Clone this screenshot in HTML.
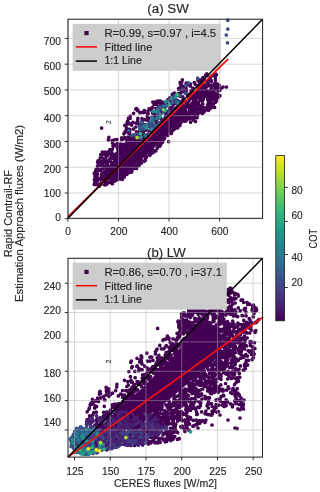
<!DOCTYPE html>
<html><head><meta charset="utf-8"><style>
html,body{margin:0;padding:0;background:#fff;width:320px;height:492px;overflow:hidden}
svg{display:block;will-change:transform}
text{font-family:"Liberation Sans", sans-serif;stroke:#262626;stroke-width:0.15px}
</style></head><body>
<svg width="320" height="492" viewBox="0 0 320 492">
<rect width="320" height="492" fill="#fff"/>
<defs><linearGradient id="tband" x1="69" y1="0" x2="150" y2="0" gradientUnits="userSpaceOnUse"><stop offset="0" stop-color="#325a8a"/><stop offset="0.45" stop-color="#3d4486"/><stop offset="1" stop-color="#462a78"/></linearGradient></defs>
<path d="M99.0,181.0 L104.0,182.0 L112.0,179.0 L120.0,176.0 L128.0,171.0 L136.0,164.0 L144.0,157.0 L152.0,150.0 L160.0,142.0 L168.0,134.0 L176.0,126.0 L184.0,119.0 L188.0,112.0 L184.0,102.6 L170.0,116.9 L156.0,131.2 L146.0,141.0 L130.0,142.0 L121.0,143.0 L119.0,150.0 L116.0,157.0 L108.0,167.0 L100.0,173.0Z" fill="#440154"/>
<path d="M190.7 98.2h0M157.6 128.0h0M118.9 146.5h0M166.5 120.3h0M191.1 104.8h0M180.8 122.7h0M188.9 107.8h0M97.5 174.0h0M176.2 108.7h0M97.3 181.0h0M118.6 147.6h0M126.9 141.4h0M145.2 157.4h0M187.3 117.7h0M101.3 184.1h0M186.6 103.7h0M133.5 140.3h0M141.5 140.0h0M191.5 107.6h0M99.3 170.4h0M115.6 180.5h0M188.4 106.1h0M183.4 120.5h0M185.8 105.6h0M189.8 105.5h0M146.2 156.4h0M117.8 178.2h0M113.2 179.6h0M188.6 105.3h0M189.5 112.9h0M185.2 117.5h0M137.1 139.1h0M192.1 103.3h0M187.7 103.6h0M153.4 150.7h0M95.6 176.5h0M131.3 140.1h0M175.8 108.6h0M172.0 114.3h0M188.2 106.4h0M110.8 179.7h0M156.7 130.0h0M119.4 176.7h0M100.7 165.3h0M187.2 107.0h0M174.7 109.9h0M167.7 135.4h0M189.6 113.8h0M118.4 177.0h0M130.6 168.8h0M137.8 164.7h0M175.3 109.5h0M163.5 139.6h0M102.9 166.1h0M105.0 182.1h0M134.1 166.4h0M163.0 139.8h0M115.6 156.6h0M107.0 184.1h0M107.7 165.0h0M176.7 126.4h0M159.6 127.1h0M100.6 169.7h0M96.1 181.1h0M114.3 157.4h0M143.2 139.6h0M189.1 100.8h0M128.2 172.8h0M159.3 127.7h0M106.9 182.4h0M100.9 183.1h0M99.1 170.2h0M186.3 115.4h0M103.6 167.8h0M170.7 115.3h0M112.7 158.1h0M134.4 141.3h0M98.3 184.6h0M106.8 181.8h0M120.2 145.6h0M98.5 178.9h0M116.6 179.5h0M106.2 183.5h0M138.7 141.2h0M143.4 139.8h0M137.4 140.2h0M150.9 153.5h0M165.9 120.8h0M189.0 112.6h0M161.3 142.0h0M145.1 140.2h0M135.3 166.1h0M125.3 174.1h0M160.1 125.2h0M180.5 105.2h0M130.4 139.8h0M160.0 126.1h0M178.0 126.2h0M105.9 166.4h0M115.6 177.7h0M137.0 140.8h0M186.0 105.6h0M120.6 144.0h0M124.3 174.9h0M114.3 158.2h0M131.2 170.1h0M150.6 151.5h0M143.4 139.7h0M111.5 162.2h0M105.8 167.3h0M121.8 139.7h0M161.5 124.9h0M149.4 154.1h0M167.6 117.5h0M105.9 183.2h0M95.9 177.4h0M109.8 161.3h0M97.0 184.7h0M126.0 174.4h0M112.5 156.7h0M109.5 161.5h0M129.7 139.4h0M163.0 123.6h0M158.3 144.2h0M118.0 151.6h0M161.4 123.4h0M121.0 177.1h0M141.4 160.0h0M164.8 121.0h0M146.5 139.4h0M138.1 138.9h0M102.6 168.8h0M164.7 138.1h0M127.8 141.4h0M173.5 112.3h0M177.2 107.3h0M120.2 176.9h0M99.1 170.5h0M177.4 107.8h0M186.1 102.5h0M121.6 175.7h0M111.6 180.1h0M181.1 104.7h0M96.5 180.3h0M119.1 148.8h0M142.0 139.5h0M152.9 133.8h0M187.7 104.5h0M129.7 171.3h0M99.1 169.3h0M133.6 139.7h0M176.4 108.8h0M112.2 180.5h0M156.9 128.4h0M146.2 155.9h0M100.6 170.4h0M138.9 162.7h0M149.8 155.3h0M98.9 169.7h0M114.4 158.4h0M96.3 173.0h0M97.1 177.2h0M118.6 179.2h0M116.5 155.5h0M185.1 118.0h0M105.4 166.0h0M112.6 180.3h0M189.6 108.7h0M123.2 176.9h0M96.5 172.0h0M107.7 182.1h0M108.6 166.1h0M169.9 114.4h0M115.1 154.6h0M183.4 101.4h0M96.2 180.8h0M106.8 181.9h0M189.3 111.6h0M146.3 156.0h0M188.9 112.9h0M99.4 186.1h0M118.3 179.5h0M122.5 179.3h0M124.3 177.0h0M129.1 172.2h0M131.1 172.2h0M133.6 168.6h0M137.3 166.0h0M145.3 159.7h0M150.3 154.6h0M153.0 152.7h0M153.6 151.3h0M157.3 147.6h0M159.6 146.2h0M160.4 144.7h0M170.8 133.3h0M171.6 131.7h0M173.6 129.8h0M175.5 128.3h0M177.3 127.1h0M180.0 125.4h0M184.2 121.2h0M187.0 118.9h0M189.2 116.7h0M191.2 111.0h0M191.9 108.7h0M193.5 104.9h0M191.7 98.2h0M191.0 96.2h0M188.1 96.3h0M183.0 100.7h0M179.2 104.6h0M177.9 106.8h0M176.6 107.6h0M172.9 111.7h0M171.2 112.8h0M168.9 114.5h0M165.2 118.0h0M164.7 120.3h0M162.6 121.3h0M161.8 123.5h0M158.1 126.3h0M156.2 128.6h0M152.6 132.0h0M151.5 133.1h0M149.2 134.3h0M145.6 138.8h0M144.1 139.0h0M141.7 138.4h0M134.5 139.0h0M132.4 139.3h0M123.6 138.6h0M117.6 143.5h0M118.2 146.9h0M116.7 153.4h0M114.6 154.5h0M112.5 157.2h0M109.5 159.6h0M107.8 161.9h0M105.2 162.5h0M102.3 164.1h0M100.6 164.5h0M95.6 171.2h0M95.4 175.4h0M94.4 179.7h0M216.1 94.5h0M218.2 87.9h0M213.7 97.1h0M206.3 90.1h0M194.2 96.9h0M203.0 99.0h0M196.6 109.5h0M211.7 89.2h0M193.5 101.0h0M217.5 87.7h0M205.7 109.7h0M210.3 90.7h0M209.1 85.1h0M201.0 106.2h0M212.4 89.5h0M199.2 105.3h0M191.1 92.5h0M202.7 86.9h0M201.7 97.8h0M197.1 97.1h0M197.0 108.4h0M198.5 85.6h0M211.0 94.1h0M198.9 97.5h0M195.0 102.6h0M208.5 110.3h0M219.1 85.3h0M197.5 115.2h0M213.3 104.1h0M209.1 93.5h0M198.9 86.9h0M188.3 117.2h0M196.0 99.4h0M202.3 94.5h0M217.1 93.9h0M207.6 99.3h0M196.3 95.5h0M193.6 94.8h0M198.3 94.5h0M194.2 93.2h0M214.4 85.9h0M209.5 80.0h0M213.8 85.3h0M193.8 110.2h0M218.2 97.5h0M215.8 95.5h0M211.9 104.4h0M207.3 83.9h0M206.5 107.6h0M198.5 89.9h0M189.6 94.0h0M211.3 81.6h0M203.6 108.0h0M213.3 103.5h0M206.2 93.4h0M204.8 85.2h0M190.5 95.4h0M213.5 96.7h0M208.8 103.3h0M211.0 96.4h0M195.7 95.1h0M194.0 117.4h0M209.5 92.6h0M212.0 90.2h0M206.6 85.8h0M215.7 99.8h0M194.2 118.2h0M187.1 118.5h0M212.0 85.4h0M212.2 103.4h0M200.3 109.9h0M193.5 110.1h0M208.0 83.3h0M202.3 109.7h0M194.3 94.8h0M212.1 98.5h0M216.0 96.1h0M186.0 121.0h0M204.0 110.5h0M197.9 89.7h0M201.7 82.8h0M201.4 109.6h0M211.0 93.7h0M218.5 87.0h0M202.5 93.4h0M190.1 118.5h0M201.5 112.4h0M193.3 117.8h0M192.2 117.5h0M212.5 105.9h0M200.4 83.3h0M192.6 98.8h0M218.2 85.9h0M209.3 102.6h0M199.0 86.2h0M202.2 90.5h0M197.6 102.6h0M212.2 104.1h0M190.0 116.7h0M198.2 102.3h0M194.5 105.8h0M209.4 94.5h0M208.8 94.4h0M206.4 91.8h0M219.9 89.5h0M208.8 108.1h0M209.1 109.3h0M195.6 103.2h0M214.8 83.4h0M218.5 90.5h0M216.6 101.0h0M199.0 108.7h0M211.6 90.6h0M207.1 106.8h0M204.4 94.3h0M217.3 89.9h0M213.6 85.9h0M202.6 103.5h0M204.7 96.6h0M204.1 79.8h0M192.8 111.2h0M193.0 114.0h0M201.7 95.5h0M196.4 111.5h0M214.9 98.3h0M206.3 86.8h0M208.0 97.1h0M195.4 100.8h0M218.7 89.5h0M196.0 117.7h0M210.1 97.3h0M208.0 85.8h0M207.1 81.6h0M202.8 93.3h0M210.5 100.8h0M200.0 107.1h0M198.7 87.5h0M193.8 107.5h0M192.2 96.1h0M209.5 97.4h0M202.6 99.8h0M202.3 113.4h0M214.1 99.2h0M209.8 103.6h0M210.8 93.9h0M209.7 94.7h0M210.4 90.9h0M207.6 85.7h0M188.3 95.3h0M195.8 117.6h0M204.9 87.5h0M203.2 99.6h0M196.5 95.0h0M202.9 104.0h0M202.6 100.5h0M199.5 107.3h0M194.2 111.8h0M203.1 89.7h0M197.9 91.4h0M198.9 109.2h0M214.3 99.6h0M211.1 88.1h0M200.7 94.3h0M195.3 94.4h0M209.0 106.0h0M209.7 90.7h0M203.4 107.5h0M192.5 93.4h0M211.3 99.8h0M197.7 90.6h0M202.0 109.3h0M216.1 97.7h0M199.6 92.4h0M196.3 115.2h0M217.0 97.2h0M191.1 111.9h0M217.4 97.7h0M198.7 104.3h0M198.4 95.2h0M212.2 93.2h0M209.1 105.6h0M209.0 105.0h0M192.6 104.0h0M205.3 92.8h0M207.8 104.6h0M202.9 84.3h0M191.9 92.3h0M199.4 94.5h0M217.4 84.0h0M220.5 89.3h0M215.7 89.4h0M205.7 95.1h0M214.0 90.5h0M212.7 99.4h0M198.1 88.8h0M215.2 102.4h0M198.3 113.0h0M211.8 97.8h0M201.1 88.1h0M200.0 100.6h0M194.7 108.9h0M202.3 94.9h0M215.9 88.0h0M216.5 94.3h0M196.4 105.2h0M204.8 91.2h0M187.1 119.6h0M208.3 101.7h0M196.1 93.0h0M215.3 93.5h0M197.4 96.2h0M208.6 98.0h0M199.0 89.0h0M213.2 98.5h0M214.8 95.0h0M211.1 80.3h0M209.2 107.8h0M202.4 99.1h0M207.9 108.5h0M193.6 106.4h0M195.6 102.5h0M206.8 84.8h0M195.4 107.9h0M112.1 153.0h0M131.8 171.7h0M98.1 160.8h0M123.3 138.4h0M190.4 84.2h0M107.4 152.7h0M193.5 119.9h0M151.6 109.9h0M110.0 149.6h0M214.6 107.4h0M129.9 129.7h0M187.8 83.6h0M180.7 84.6h0M156.1 108.5h0M128.5 118.0h0M159.9 100.9h0M205.6 75.0h0M133.5 129.1h0M100.9 163.4h0M125.8 131.9h0M144.2 112.4h0M129.0 129.3h0M106.0 160.7h0M136.5 168.4h0M182.4 86.6h0M181.7 82.2h0M185.9 87.2h0M130.5 171.9h0M177.8 127.8h0M131.2 123.8h0M96.3 170.0h0M104.8 185.0h0M147.9 112.9h0M130.1 123.8h0M139.2 165.3h0M94.3 173.4h0M144.6 161.1h0M97.9 161.2h0M190.2 86.0h0M192.8 89.6h0M161.4 103.6h0M136.8 109.5h0M212.3 75.3h0M94.8 176.0h0M126.2 139.1h0M152.3 107.6h0M210.8 76.5h0M137.9 118.3h0M103.9 153.5h0M95.1 178.8h0M124.8 125.4h0M136.6 108.6h0M107.2 155.8h0M95.0 173.0h0M136.1 123.1h0M161.4 101.9h0M127.8 123.0h0M145.5 159.9h0M114.9 144.9h0M125.1 131.6h0M113.6 148.3h0M106.4 153.7h0M98.2 165.7h0M164.6 119.7h0M111.4 149.9h0M156.6 104.5h0M127.7 124.0h0M152.0 108.0h0M139.9 112.7h0M202.6 79.8h0M128.0 137.0h0M102.5 152.6h0M129.5 132.2h0M207.1 75.4h0M105.3 154.5h0M103.0 152.4h0M136.1 108.9h0M186.0 88.9h0M103.9 158.8h0M137.7 120.1h0M210.9 108.1h0M128.1 131.1h0M180.4 87.7h0M148.0 113.9h0M180.1 82.7h0M171.3 133.5h0M121.7 137.9h0M142.0 118.5h0M198.7 81.2h0M156.5 102.2h0M111.7 155.1h0M152.8 102.1h0M105.6 158.8h0M136.5 168.0h0M184.8 86.4h0M206.9 73.8h0M94.3 184.4h0M124.7 137.6h0M117.1 139.5h0M135.7 127.0h0M137.7 123.3h0M141.5 163.0h0M194.3 82.6h0M200.2 82.7h0M103.8 153.5h0M154.1 104.3h0M157.3 148.2h0M147.5 114.1h0M159.0 102.3h0M129.7 131.7h0M191.1 90.7h0M137.9 110.0h0M210.4 77.8h0M179.3 89.4h0M127.6 121.0h0M132.9 122.3h0M131.7 125.1h0M117.4 148.7h0M104.7 161.5h0M110.1 151.5h0M103.9 154.0h0M114.8 147.7h0M94.7 182.7h0M107.8 152.1h0M152.6 107.3h0M173.6 93.6h0M200.6 79.8h0M219.9 95.7h0M160.4 145.2h0M110.1 158.7h0M149.0 108.9h0M182.4 79.8h0M156.5 103.5h0M126.2 130.3h0M155.8 150.9h0M98.7 165.0h0M178.8 89.4h0M183.3 86.3h0M114.2 144.9h0M112.4 183.7h0M112.2 140.6h0M106.1 155.7h0M186.4 90.4h0M154.9 102.1h0M148.0 111.1h0M193.0 88.0h0M172.3 94.4h0M105.1 153.6h0M126.8 128.5h0M127.1 122.8h0M187.5 95.5h0M95.8 173.3h0M97.6 162.3h0M162.5 142.3h0M203.0 77.5h0M215.9 74.2h0M216.4 74.8h0M215.4 79.9h0M95.4 180.0h0M95.1 176.7h0M95.5 174.9h0M95.5 171.7h0M96.2 169.4h0M97.5 166.1h0M100.8 161.1h0M101.4 157.0h0M101.2 155.2h0M104.0 154.4h0M109.0 153.7h0M111.8 150.3h0M112.9 141.1h0M108.9 137.4h0M123.9 133.8h0M126.5 128.0h0M126.2 125.0h0M127.9 121.5h0M130.1 118.3h0M130.3 116.2h0M133.6 113.3h0M136.3 109.0h0M135.7 109.0h0M137.4 110.6h0M142.4 112.4h0M144.4 110.6h0M154.8 102.4h0M157.6 101.0h0M163.9 102.3h0M168.1 100.0h0M173.5 95.3h0M174.3 93.0h0M178.6 88.6h0M186.2 83.2h0M188.9 84.8h0M195.3 84.3h0M198.0 80.3h0M206.6 75.8h0M214.3 74.5h0M215.2 77.3h0M215.9 83.0h0M222.9 87.1h0M226.5 87.0h0M220.9 88.8h0M219.6 90.4h0M217.7 94.4h0M213.0 106.3h0M206.2 108.2h0M204.6 111.1h0M203.8 112.2h0M197.0 117.7h0M186.3 120.1h0M179.8 123.6h0M176.7 126.0h0M172.6 129.8h0M170.7 132.2h0M164.5 138.1h0M161.3 143.3h0M157.8 146.9h0M153.2 150.0h0M151.1 152.5h0M146.5 157.0h0M134.7 166.3h0M128.0 172.5h0M126.8 174.4h0M122.3 178.4h0M121.4 178.9h0M116.3 179.7h0M114.2 181.2h0M110.5 182.6h0M98.8 185.3h0M95.5 183.3h0M101.6 128.1h0M190.6 122.2h0M195.5 121.5h0M108.4 139.9h0M114.4 139.9h0M102.4 152.0h0M105.1 152.0h0M107.9 152.0h0M100.8 154.7h0M100.2 158.0h0M101.8 161.3h0M102.4 164.0h0M112.5 143.0h0M113.0 146.0h0M112.0 150.0h0M117.0 144.0h0M116.0 155.0h0M111.0 157.0h0" stroke="#440154" stroke-width="3.7" stroke-linecap="round" fill="none"/>
<path d="M227.8 20.3h0M227.8 29.1h0M226.3 35.0h0M227.5 42.8h0" stroke="#3e4a89" stroke-width="3.7" stroke-linecap="round" fill="none"/>
<path d="M148.7 136.6h0M151.5 128.6h0M156.3 123.6h0M168.1 99.7h0M182.8 96.9h0M180.5 102.1h0M182.0 91.3h0M155.8 119.2h0M132.8 139.1h0M150.7 124.5h0M144.0 135.5h0M169.8 108.8h0M160.6 110.0h0M151.7 130.0h0M137.5 133.0h0M182.9 100.5h0M177.8 95.4h0M144.9 119.5h0M146.5 138.2h0M149.6 124.4h0M155.3 112.7h0M175.3 94.2h0M162.2 120.7h0M170.2 107.5h0M170.6 98.7h0M137.9 135.7h0M171.6 107.6h0M176.4 100.4h0M155.7 116.0h0M163.8 108.1h0M139.6 130.8h0M177.8 100.7h0M131.3 140.3h0M166.5 111.8h0M156.9 114.1h0M163.7 103.3h0M152.5 112.9h0M175.8 103.3h0M141.3 122.1h0M154.5 115.6h0M182.8 91.4h0M133.5 135.6h0M141.7 130.7h0M157.3 111.6h0M163.8 109.0h0M143.0 132.8h0M162.2 103.9h0M168.7 100.0h0M161.9 106.1h0M144.2 136.0h0M161.8 107.6h0M173.0 108.0h0M155.7 125.9h0M165.6 117.1h0M150.6 124.5h0M169.8 108.5h0M131.0 137.2h0M142.8 131.3h0M148.0 134.2h0M142.2 130.2h0M152.3 123.8h0M162.9 110.1h0M140.0 134.2h0M162.2 104.2h0M168.3 111.1h0M170.6 102.0h0M147.3 116.4h0M149.2 123.3h0M139.3 134.5h0M161.1 118.7h0M165.6 112.4h0M183.1 99.6h0M154.0 128.5h0M151.7 125.2h0M166.5 104.4h0M140.3 134.8h0M180.6 93.0h0M162.0 120.7h0M161.6 107.4h0M185.9 92.9h0M164.7 109.7h0M166.4 104.0h0M146.3 120.0h0M148.9 118.2h0M178.7 104.7h0M152.2 128.2h0M178.2 104.2h0M147.6 120.1h0M165.9 115.1h0M165.5 106.3h0M165.4 110.9h0M143.7 133.8h0M160.5 105.4h0M154.8 118.2h0M160.0 106.8h0M143.0 139.0h0M154.4 127.0h0M158.7 106.8h0M136.3 139.0h0M160.7 109.8h0M144.4 130.6h0M142.3 134.0h0M158.3 116.8h0M159.6 117.1h0M142.2 123.2h0M183.9 91.1h0M146.4 130.0h0M154.2 112.1h0M174.7 98.6h0M154.0 111.8h0M143.9 127.3h0M143.3 125.6h0M156.9 119.1h0M161.0 111.1h0M150.0 123.9h0M134.7 139.1h0M128.9 133.4h0M130.8 135.3h0M149.5 131.0h0M169.7 97.9h0M147.7 134.9h0M136.4 131.8h0M180.3 96.3h0M172.9 108.5h0M169.8 107.8h0M173.1 104.9h0M141.9 121.5h0M132.7 135.4h0M163.2 111.9h0M159.7 106.5h0M147.9 134.6h0M153.6 120.1h0M183.4 99.0h0M163.9 105.0h0M178.4 93.5h0M137.1 135.1h0M156.2 120.7h0M160.1 105.7h0M174.3 94.5h0M150.2 125.5h0M140.6 124.4h0M164.5 106.9h0M169.9 109.8h0" stroke="#440154" stroke-width="3.7" stroke-linecap="round" fill="none"/>
<path d="M158.3 124.0h0M141.1 138.7h0M180.3 96.0h0M172.5 98.1h0M169.1 112.9h0M149.3 135.6h0M145.1 124.5h0M149.6 127.1h0M178.0 104.7h0M182.4 89.0h0M153.0 125.3h0M166.4 105.6h0M136.4 136.8h0M174.0 95.3h0M156.8 118.3h0M174.5 98.1h0M162.0 106.2h0M152.4 125.7h0M155.9 118.7h0M167.0 116.9h0M173.7 98.6h0M173.9 108.9h0M157.6 118.7h0M156.8 125.1h0M157.2 114.7h0M143.8 127.0h0M174.3 100.1h0M156.4 118.3h0M137.2 133.9h0M150.7 124.9h0M152.8 120.2h0M179.4 102.1h0M161.0 122.6h0" stroke="#46337e" stroke-width="3.7" stroke-linecap="round" fill="none"/>
<path d="M139.1 126.0h0M185.1 93.2h0M172.7 102.2h0M176.4 102.8h0M131.9 135.6h0M139.0 134.0h0M159.8 106.5h0M152.7 118.3h0M175.4 98.3h0M148.6 124.4h0M142.8 126.1h0M177.3 95.0h0M146.8 138.2h0M161.2 108.8h0M153.8 127.4h0M149.1 134.1h0M150.4 121.8h0M158.7 122.6h0M151.1 125.7h0M152.0 117.0h0M171.5 102.7h0M142.5 128.8h0M157.8 113.0h0M154.6 125.6h0M157.6 114.0h0M163.7 112.7h0M133.9 134.8h0" stroke="#3b528b" stroke-width="3.7" stroke-linecap="round" fill="none"/>
<path d="M152.4 117.4h0M156.0 125.7h0M141.2 122.3h0M167.6 101.1h0M158.8 110.9h0M143.4 125.8h0M179.0 95.5h0M149.9 133.6h0M177.1 101.7h0" stroke="#31688e" stroke-width="3.7" stroke-linecap="round" fill="none"/>
<path d="M152.7 119.1h0M163.7 106.0h0M157.8 109.2h0M144.5 128.6h0M166.9 105.9h0M145.1 135.3h0M146.2 128.2h0" stroke="#2a788e" stroke-width="3.7" stroke-linecap="round" fill="none"/>
<path d="M165.7 110.4h0M175.2 97.2h0M169.6 104.0h0M140.8 137.2h0M178.7 104.2h0M171.4 98.4h0M144.6 127.2h0M151.2 129.4h0M153.1 111.6h0M160.0 117.1h0M165.5 101.9h0M156.1 111.5h0" stroke="#21918c" stroke-width="3.7" stroke-linecap="round" fill="none"/>
<path d="" stroke="#35b779" stroke-width="3.7" stroke-linecap="round" fill="none"/>
<path d="M140.0 129.5h0M146.7 124.8h0M153.3 122.0h0M157.0 118.3h0M160.8 114.5h0M151.2 121.0h0M146.9 125.0h0" stroke="#2a788e" stroke-width="3.7" stroke-linecap="round" fill="none"/>
<path d="M139.8 128.1h0M143.0 128.9h0M128.9 130.5h0M185.5 85.7h0M188.3 82.9h0M197.7 78.2h0" stroke="#3b528b" stroke-width="3.7" stroke-linecap="round" fill="none"/>
<path d="M140.6 133.6h0M177.0 94.4h0" stroke="#35b779" stroke-width="3.7" stroke-linecap="round" fill="none"/>
<path d="M163.6 109.8h0" stroke="#6ece58" stroke-width="3.7" stroke-linecap="round" fill="none"/>
<path d="M137.1 137.6h0" stroke="#b5de2b" stroke-width="3.7" stroke-linecap="round" fill="none"/>
<path d="M95.0,432.0 L110.0,418.0 L125.0,403.0 L140.0,390.0 L155.0,375.0 L170.0,360.0 L180.0,348.0 L186.0,336.0 L190.0,325.0 L205.0,322.0 L216.0,326.0 L222.0,336.0 L222.0,348.0 L214.0,361.0 L200.0,373.0 L185.0,386.0 L170.0,399.0 L155.0,411.0 L140.0,421.0 L120.0,429.0 L100.0,437.0Z" fill="#440154"/>
<path d="M152.3 418.3h0M102.9 422.0h0M184.3 332.3h0M158.1 422.0h0M186.0 321.3h0M122.2 404.8h0M181.3 394.6h0M149.0 422.0h0M216.9 365.3h0M212.4 366.5h0M149.2 423.0h0M127.5 398.6h0M109.6 412.1h0M196.7 319.9h0M227.3 354.4h0M183.6 314.8h0M229.5 352.9h0M202.2 312.8h0M229.5 336.3h0M133.0 393.7h0M120.9 406.4h0M114.2 412.3h0M135.4 390.3h0M213.1 320.7h0M219.4 316.1h0M163.6 418.0h0M168.6 356.8h0M155.4 370.4h0M217.2 357.6h0M203.1 371.0h0M217.2 366.5h0M155.0 367.0h0M207.4 367.1h0M176.9 351.0h0M158.1 421.0h0M223.1 346.8h0M168.7 405.4h0M160.2 363.8h0M186.4 395.3h0M211.8 368.6h0M121.0 429.1h0M127.2 427.6h0M225.8 337.7h0M197.2 382.2h0M223.1 343.8h0M153.6 422.8h0M224.6 357.5h0M155.1 419.7h0M160.9 417.9h0M189.8 311.8h0M190.3 383.5h0M221.2 331.3h0M123.9 429.3h0M197.6 313.0h0M180.9 400.1h0M125.7 401.1h0M227.2 344.0h0M184.1 338.6h0M225.5 349.9h0M149.8 423.4h0M202.0 320.1h0M210.5 311.5h0M180.6 399.2h0M228.7 355.0h0M147.3 429.6h0M151.9 371.7h0M189.7 312.9h0M219.8 358.2h0M164.3 416.2h0M227.1 340.0h0M171.5 404.3h0M185.8 331.8h0M220.8 352.7h0M142.6 421.9h0M224.1 335.3h0M183.4 333.8h0M151.3 423.6h0M142.2 380.8h0M122.3 403.9h0M177.7 345.5h0M167.3 412.1h0M173.5 402.0h0M229.1 340.2h0M217.9 355.0h0M149.5 419.2h0M207.9 314.9h0M183.5 331.0h0M228.4 348.3h0M185.4 320.2h0M161.0 410.0h0M138.6 384.3h0M96.4 425.7h0M169.3 358.6h0M196.3 320.8h0M95.3 425.8h0M175.3 397.1h0M159.9 409.9h0M163.7 413.2h0M142.6 378.9h0M186.9 324.7h0M188.4 313.0h0M214.1 319.6h0M221.4 330.5h0M224.4 331.0h0M117.5 409.9h0M190.2 389.3h0M182.9 397.5h0M180.0 394.4h0M163.5 419.1h0M160.7 367.9h0M195.9 377.4h0M190.6 316.5h0M225.0 349.6h0M206.4 319.3h0M220.2 329.5h0M125.2 399.9h0M208.8 370.4h0M203.0 318.6h0M169.3 356.0h0M155.7 372.4h0M162.0 407.3h0M187.1 328.5h0M227.3 344.5h0M159.5 418.8h0M211.0 371.1h0M229.3 337.1h0M157.0 422.9h0M189.3 388.3h0M231.5 341.7h0M178.8 346.1h0M211.1 313.1h0M192.3 382.7h0M191.3 386.0h0M147.2 378.5h0M213.9 321.7h0M145.5 383.3h0M172.4 347.7h0M98.3 426.1h0M139.6 429.9h0M223.2 342.7h0M226.3 353.1h0M177.5 401.4h0M227.9 353.8h0M130.3 397.1h0M140.5 426.4h0M105.7 416.0h0M226.0 329.4h0M138.6 423.6h0M187.1 320.9h0M180.2 392.3h0M224.9 334.5h0M227.4 350.2h0M233.2 340.4h0M166.6 362.9h0M182.9 325.9h0M157.1 364.4h0M213.3 318.5h0M92.9 427.9h0M117.4 404.2h0M176.8 348.8h0M143.9 378.1h0M153.6 417.6h0M111.0 410.7h0M227.8 332.5h0M188.4 327.4h0M198.0 312.2h0M227.8 353.1h0M219.2 312.1h0M190.4 322.3h0M214.0 316.4h0M169.2 401.6h0M100.9 422.2h0M225.2 341.1h0M156.0 419.2h0M110.2 413.9h0M161.1 362.4h0M145.7 429.1h0M227.8 340.4h0M175.1 351.0h0M199.5 313.2h0M95.3 427.9h0M219.8 364.0h0M225.0 353.3h0M181.3 390.5h0M202.4 314.8h0M221.5 321.0h0M225.1 351.1h0M157.5 423.0h0M230.6 351.2h0M205.4 374.1h0M185.5 392.0h0M153.4 423.8h0M215.5 364.8h0M194.8 318.4h0M180.4 402.1h0M130.0 390.0h0M190.5 386.6h0M198.1 314.2h0M222.2 356.3h0M162.1 405.7h0M157.1 412.3h0M203.9 315.0h0M162.0 364.4h0M202.9 377.9h0M172.9 410.5h0M159.0 364.3h0M158.6 421.5h0M184.3 328.1h0M206.0 319.2h0M145.7 381.3h0M170.4 408.5h0M153.7 416.0h0M214.8 311.1h0M102.7 422.3h0M119.6 429.9h0M140.3 384.7h0M124.2 402.0h0M134.2 389.0h0M167.4 407.2h0M168.8 352.3h0M190.8 316.8h0M223.5 343.4h0M221.3 353.5h0M222.5 322.4h0M97.8 424.7h0M212.9 315.6h0M229.4 349.9h0M137.7 389.8h0M153.5 420.6h0M224.4 354.6h0M183.8 396.5h0M164.9 410.6h0M138.4 427.7h0M167.1 358.2h0M206.8 319.3h0M167.4 354.6h0M168.3 353.3h0M200.0 376.8h0M216.5 365.0h0M145.5 379.5h0M137.5 429.3h0M174.8 348.0h0M160.0 361.2h0M149.5 419.2h0M110.9 413.0h0M183.9 328.9h0M225.6 358.7h0M186.0 391.3h0M219.7 360.0h0M226.8 354.7h0M155.8 374.1h0M110.0 416.0h0M159.2 369.7h0M150.4 371.6h0M132.9 387.3h0M132.3 396.2h0M135.8 391.0h0M225.7 359.5h0M122.7 397.4h0M187.0 332.8h0M223.4 329.6h0M186.7 327.6h0M207.1 313.5h0M137.2 424.6h0M187.5 322.7h0M220.8 318.2h0M145.1 424.5h0M142.6 423.6h0M95.0 427.3h0M191.5 311.2h0M220.5 313.0h0M179.1 400.1h0M181.2 397.0h0M196.5 382.7h0M176.5 351.3h0M151.8 416.0h0M221.2 354.3h0M215.6 317.2h0M167.0 353.1h0M185.0 395.4h0M226.3 355.3h0M161.9 362.7h0M139.3 432.9h0M126.0 401.6h0M104.2 417.9h0M156.9 372.8h0M167.7 414.8h0M144.8 376.7h0M155.7 422.3h0M184.8 314.4h0M158.3 422.5h0M133.5 425.2h0M108.5 417.4h0M218.5 311.9h0M185.9 393.6h0M222.8 363.3h0M204.5 371.1h0M210.3 370.0h0M152.4 367.7h0M166.5 362.5h0M165.8 404.8h0M224.6 331.0h0M190.3 324.9h0M223.7 351.4h0M180.3 393.9h0M146.1 376.8h0M172.1 410.4h0M189.1 324.6h0M155.7 373.5h0M221.8 362.0h0M170.6 409.6h0M207.5 317.8h0M228.6 351.2h0M183.4 390.2h0M123.7 396.3h0M130.8 396.7h0M117.8 408.0h0M189.1 315.1h0M179.9 394.4h0M149.8 419.6h0M131.4 430.3h0M140.2 423.5h0M135.8 389.2h0M164.9 412.2h0M227.3 332.7h0M176.2 402.8h0M151.8 415.0h0M153.7 414.8h0M153.6 373.1h0M223.6 339.0h0M131.7 428.8h0M174.1 349.0h0M181.7 327.6h0M232.7 341.4h0M127.1 427.3h0M224.9 358.0h0M171.2 358.3h0M207.3 368.3h0M223.1 336.5h0M148.3 415.7h0M104.9 417.5h0M206.9 319.7h0M218.0 362.5h0M133.4 424.7h0M135.6 388.7h0M129.8 392.9h0M135.6 389.0h0M203.7 376.1h0M226.5 331.4h0M156.3 415.5h0M229.7 355.3h0M231.2 342.1h0M220.5 319.6h0M219.4 324.5h0M159.1 362.3h0M193.4 380.4h0M122.2 430.8h0M230.1 341.2h0M182.5 342.9h0M169.1 402.8h0M216.3 325.0h0M147.8 376.0h0M170.8 406.6h0M218.6 324.2h0M141.6 420.6h0M171.9 406.2h0M161.8 409.4h0M146.0 430.0h0M145.5 428.2h0M219.5 352.5h0M124.4 399.0h0M124.6 429.0h0M126.9 397.3h0M191.6 313.2h0M147.3 425.3h0M150.4 428.1h0M137.9 427.4h0M192.5 315.0h0M177.6 396.2h0M204.2 312.7h0M202.3 376.2h0M122.8 401.6h0M182.7 394.6h0M203.4 321.0h0M220.8 323.5h0M219.8 331.0h0M164.2 358.5h0M160.4 413.5h0M115.5 405.2h0M195.4 318.6h0M141.7 386.7h0M182.5 333.0h0M228.4 344.1h0M218.8 357.0h0M194.0 312.4h0M230.0 336.3h0M173.9 404.6h0M150.6 376.6h0M228.9 349.1h0M214.0 363.7h0M168.8 400.8h0M148.3 422.0h0M190.4 389.8h0M165.2 361.7h0M135.0 431.7h0M198.2 375.9h0M122.1 403.7h0M221.0 351.2h0M128.8 429.7h0M221.3 355.2h0M175.0 404.3h0M131.2 396.0h0M218.9 321.1h0M190.1 317.6h0M186.5 320.2h0M227.9 356.0h0M204.6 374.7h0M216.8 316.2h0M156.8 424.2h0M168.2 353.8h0M143.8 383.5h0M164.2 413.0h0M200.4 320.7h0M171.9 405.0h0M164.0 363.9h0M141.1 425.3h0M104.1 419.3h0M136.5 423.1h0M231.9 342.8h0M229.6 337.1h0M156.9 423.7h0M111.2 415.6h0M149.5 379.4h0M185.1 324.2h0M104.5 417.5h0M189.3 386.3h0M162.4 358.0h0M198.4 323.1h0M119.8 406.7h0M207.4 311.6h0M218.3 358.5h0M180.6 344.1h0M167.5 358.3h0M134.5 386.6h0M174.7 346.5h0M169.2 359.3h0M186.7 389.6h0M207.4 314.9h0M135.5 427.7h0M167.7 413.3h0M229.3 338.1h0M128.7 431.0h0M167.0 362.9h0M175.8 400.7h0M224.3 345.3h0M107.7 415.9h0M173.9 405.4h0M228.9 335.2h0M184.3 321.1h0M207.5 322.6h0M146.5 426.3h0M142.6 422.7h0M150.1 427.7h0M218.2 360.5h0M224.0 330.1h0M225.4 334.4h0M143.2 423.4h0M198.9 322.3h0M158.0 418.5h0M222.2 354.4h0M208.8 311.8h0M188.6 390.6h0M224.0 331.2h0M200.3 319.7h0M142.8 422.6h0M199.2 317.7h0M159.7 363.2h0M170.2 405.1h0M222.8 329.0h0M151.9 426.2h0M155.2 411.8h0M183.8 323.6h0M229.5 345.2h0M224.9 327.7h0M103.2 420.7h0M202.6 371.7h0M195.2 320.6h0M163.2 418.9h0M179.2 400.0h0M214.8 362.0h0M122.0 404.2h0M124.4 428.9h0M192.5 323.2h0M225.1 346.0h0M134.8 426.0h0M173.9 398.6h0M174.7 396.0h0M201.9 374.2h0M150.2 416.7h0M182.1 340.7h0M148.9 417.5h0M230.9 346.2h0M200.8 321.7h0M144.0 420.1h0M164.2 361.9h0M214.3 369.0h0M216.8 317.7h0M191.4 384.2h0M187.9 316.3h0M185.3 316.0h0M129.7 395.8h0M211.0 364.7h0M177.5 344.3h0M142.8 423.6h0M183.3 392.8h0M119.2 403.6h0M225.5 348.3h0M154.8 413.0h0M218.9 366.3h0M222.4 321.3h0M184.5 326.5h0M210.1 365.1h0M127.1 401.1h0M187.9 322.2h0M174.4 353.5h0M131.9 430.0h0M225.6 347.1h0M226.9 349.9h0M230.0 341.6h0M164.7 415.4h0M159.7 408.3h0M158.1 418.4h0M178.8 401.2h0M190.2 388.6h0M219.4 318.5h0M128.7 394.1h0M163.4 416.7h0M106.8 419.4h0M197.9 381.4h0M195.8 311.8h0M184.4 327.4h0M138.7 426.6h0M231.0 343.9h0M185.7 327.1h0M216.0 363.9h0M192.9 384.2h0M190.4 323.8h0M195.7 321.3h0M160.7 366.6h0M143.9 424.6h0M219.3 366.1h0M214.4 314.3h0M146.0 425.0h0M129.9 429.9h0M222.2 343.5h0M171.1 355.2h0M119.3 407.1h0M202.4 320.3h0M218.1 363.4h0M159.0 415.1h0M216.9 359.2h0M200.8 313.1h0M187.0 332.0h0M201.5 378.3h0M171.2 406.2h0M134.3 386.2h0M226.4 333.3h0M196.4 381.1h0M159.0 419.4h0M154.2 414.3h0M194.0 322.2h0M222.9 334.9h0M156.9 369.5h0M192.5 384.9h0M145.9 426.8h0M188.5 321.8h0M175.1 346.2h0M117.7 407.5h0M228.5 348.4h0M152.6 371.3h0M146.0 427.6h0M221.4 312.3h0M157.8 423.3h0M168.8 409.1h0M150.1 379.4h0M225.5 361.1h0M158.1 416.6h0M124.5 397.8h0M229.3 338.0h0M161.7 367.2h0M168.3 354.5h0M154.3 426.0h0M131.8 391.2h0M220.6 311.3h0M162.3 361.9h0M187.5 315.8h0M180.8 390.5h0M189.8 316.4h0M221.9 357.4h0M210.8 323.0h0M133.7 392.4h0M194.0 378.8h0M219.3 329.6h0M209.5 322.6h0M161.6 417.5h0M123.5 396.8h0M221.4 315.7h0M115.1 409.9h0M188.6 384.0h0M163.0 414.0h0M161.7 405.9h0M166.9 415.8h0M157.3 409.4h0M220.8 317.4h0M156.5 364.9h0M230.5 353.0h0M198.7 375.9h0M175.2 347.7h0M172.3 350.3h0M115.9 406.9h0M217.8 327.8h0M184.9 389.0h0M125.9 397.2h0M218.2 323.7h0M154.8 369.7h0M132.7 393.4h0M172.4 350.0h0M199.7 374.0h0M206.4 321.8h0M91.9 427.6h0M93.9 427.0h0M95.0 425.2h0M96.8 423.5h0M101.7 418.3h0M103.5 415.9h0M105.5 415.3h0M106.6 413.8h0M110.5 410.1h0M113.9 406.4h0M114.6 404.1h0M123.6 396.9h0M128.1 390.8h0M129.4 390.1h0M131.8 387.6h0M133.4 385.8h0M134.3 384.6h0M137.0 383.5h0M138.7 382.0h0M142.2 378.1h0M144.9 374.7h0M146.5 373.4h0M147.7 371.0h0M149.6 369.3h0M151.8 368.2h0M152.9 366.7h0M155.6 365.1h0M156.3 363.0h0M157.6 361.1h0M161.0 358.0h0M165.2 355.1h0M166.1 352.7h0M168.4 351.8h0M170.2 349.8h0M171.2 347.8h0M176.3 341.6h0M177.8 338.9h0M179.4 337.0h0M180.0 335.1h0M181.3 330.9h0M181.7 329.0h0M181.7 327.0h0M182.1 324.6h0M181.6 322.0h0M182.4 319.2h0M181.7 316.5h0M184.1 312.8h0M188.6 310.1h0M191.2 310.5h0M193.7 310.8h0M195.5 310.5h0M199.6 310.3h0M205.0 311.3h0M209.4 310.6h0M216.1 310.7h0M218.6 310.4h0M220.3 310.6h0M222.0 311.6h0M222.7 314.1h0M224.3 324.8h0M225.6 327.3h0M229.8 334.1h0M234.3 341.1h0M231.5 353.3h0M228.2 357.0h0M227.8 359.6h0M225.8 360.4h0M224.8 363.0h0M221.0 364.8h0M219.2 367.5h0M216.1 369.4h0M213.0 371.7h0M207.0 376.0h0M204.7 377.0h0M200.3 379.4h0M196.6 382.8h0M195.2 384.9h0M182.8 399.9h0M181.8 401.9h0M177.7 405.3h0M177.6 407.1h0M173.5 410.9h0M172.0 411.5h0M166.4 417.6h0M164.4 418.1h0M161.1 421.7h0M156.6 426.3h0M154.6 426.4h0M152.2 428.8h0M142.1 432.5h0M139.6 432.9h0M258.8 319.6h0M207.1 376.7h0M192.1 393.6h0M187.0 400.7h0M167.1 433.6h0M154.8 427.9h0M140.0 359.9h0M235.9 331.9h0M112.2 404.8h0M215.3 407.7h0M208.7 389.1h0M234.1 297.9h0M186.1 408.7h0M206.4 397.5h0M181.3 324.3h0M208.4 408.0h0M240.4 334.7h0M161.8 427.6h0M240.2 310.9h0M245.5 345.3h0M180.0 324.4h0M249.4 328.1h0M232.1 314.3h0M243.1 408.7h0M165.1 439.0h0M163.6 433.4h0M183.5 399.7h0M189.5 424.1h0M246.9 333.0h0M251.5 351.3h0M131.7 367.8h0M120.6 394.1h0M158.9 355.4h0M241.3 330.1h0M212.7 372.8h0M203.9 385.5h0M250.5 345.5h0M155.4 437.6h0M239.8 377.3h0M180.2 329.1h0M100.5 397.9h0M230.3 355.8h0M186.3 422.6h0M216.9 370.7h0M216.9 405.1h0M228.2 386.9h0M99.6 392.4h0M229.0 376.3h0M227.5 401.9h0M218.2 392.3h0M172.9 414.5h0M191.9 408.4h0M237.8 370.8h0M158.8 429.0h0M228.1 289.7h0M150.0 357.1h0M237.2 326.3h0M189.6 399.9h0M104.9 400.0h0M186.4 397.3h0M184.7 420.2h0M233.3 349.9h0M186.9 400.4h0M168.4 417.6h0M240.8 404.6h0M225.8 315.0h0M228.3 326.9h0M205.5 398.7h0M175.8 417.3h0M173.0 338.8h0M248.7 325.6h0M220.8 384.9h0M209.9 377.0h0M96.5 419.9h0M205.9 420.0h0M208.5 400.8h0M219.0 386.5h0M250.0 351.1h0M161.1 427.9h0M236.8 327.0h0M175.8 424.1h0M230.2 331.9h0M215.8 385.4h0M237.9 323.1h0M232.9 351.2h0M202.4 384.0h0M180.0 325.4h0M190.7 390.5h0M198.2 391.1h0M235.1 293.3h0M150.4 435.3h0M182.5 412.7h0M227.0 322.7h0M231.1 366.4h0M103.7 396.6h0M210.8 388.6h0M181.2 418.1h0M200.7 394.3h0M178.0 336.9h0M226.6 390.1h0M186.8 406.8h0M231.3 288.6h0M185.8 425.3h0M235.2 363.9h0M134.8 371.4h0M170.8 429.9h0M191.9 404.3h0M232.2 350.3h0M159.0 440.5h0M242.1 404.5h0M236.9 359.2h0M183.2 401.0h0M241.1 300.2h0M190.2 391.5h0M197.4 414.1h0M197.6 394.7h0M237.3 348.8h0M124.7 395.2h0M136.8 366.5h0M154.9 435.1h0M183.1 399.4h0M233.5 355.8h0M90.4 416.5h0M116.7 387.0h0M200.5 385.4h0M183.6 403.6h0M187.0 419.7h0M232.6 366.1h0M182.3 426.2h0M143.7 433.4h0M170.6 429.3h0M209.0 379.7h0M149.9 361.1h0M237.8 294.4h0M185.3 403.3h0M179.4 407.5h0M239.1 342.8h0M187.1 396.3h0M201.6 411.8h0M227.3 324.6h0M238.9 377.7h0M167.5 437.8h0M232.1 393.5h0M240.9 338.4h0M228.7 372.8h0M232.7 374.9h0M160.1 423.6h0M221.1 376.3h0M164.1 428.4h0M163.0 435.0h0M137.2 365.8h0M172.7 343.6h0M166.0 430.2h0M137.0 358.3h0M239.1 352.1h0M93.7 412.6h0M168.5 419.6h0M108.4 391.5h0M171.7 345.8h0M216.4 370.2h0M97.3 419.3h0M166.1 429.2h0M239.7 346.9h0M212.8 384.0h0M87.5 422.6h0M243.5 338.4h0M167.0 434.7h0M253.4 305.2h0M230.4 314.2h0M254.2 354.1h0M213.9 390.2h0M230.7 326.4h0M176.8 406.9h0M245.4 368.6h0M232.3 335.6h0M219.3 368.4h0M193.9 406.8h0M190.4 405.7h0M202.0 399.2h0M180.8 427.1h0M182.9 413.6h0M202.1 310.0h0M167.4 336.1h0M155.4 431.9h0M227.5 321.5h0M237.0 342.1h0M169.5 418.3h0M234.6 294.5h0M147.2 433.4h0M212.4 413.7h0M226.1 399.8h0M187.4 411.2h0M225.0 405.9h0M195.8 394.4h0M225.2 372.9h0M249.2 318.7h0M168.8 339.1h0M234.0 337.3h0M196.2 389.5h0M161.0 423.2h0M212.6 377.8h0M200.8 402.9h0M210.3 393.0h0M255.8 330.7h0M159.7 423.9h0M189.3 430.3h0M222.8 402.6h0M224.7 368.7h0M169.7 435.1h0M185.1 399.7h0M219.8 370.3h0M181.9 406.0h0M186.8 420.7h0M228.6 312.6h0M214.0 373.8h0M238.5 381.2h0M177.6 419.2h0M245.9 362.9h0M247.2 338.0h0M252.4 346.7h0M180.0 415.5h0M191.5 398.7h0M242.2 331.5h0M179.5 405.9h0M247.7 364.9h0M89.6 415.8h0M233.7 348.9h0M195.4 310.7h0M223.7 372.2h0M226.9 308.1h0M237.0 377.8h0M239.3 340.4h0M199.8 382.6h0M150.2 434.1h0M172.6 416.1h0M226.6 366.1h0M224.2 403.8h0M220.2 366.7h0M247.1 302.5h0M168.0 433.0h0M195.6 409.0h0M226.1 405.4h0M132.3 366.5h0M150.9 443.0h0M248.1 350.7h0M214.1 382.1h0M223.2 389.8h0M206.7 381.3h0M215.6 310.0h0M203.7 383.6h0M158.3 359.5h0M239.9 400.6h0M181.1 411.4h0M234.3 362.7h0M193.4 392.9h0M115.7 390.6h0M156.6 349.9h0M161.4 348.8h0M215.2 388.8h0M221.0 389.7h0M152.5 429.9h0M220.2 378.5h0M183.2 401.2h0M181.8 320.7h0M144.7 366.2h0M186.0 399.1h0M157.0 426.0h0M161.1 438.5h0M229.5 372.8h0M226.2 311.8h0M106.4 391.3h0M174.5 418.2h0M252.3 346.8h0M230.7 297.8h0M104.4 399.7h0M208.5 403.9h0M210.2 415.0h0M173.0 419.3h0M234.0 299.3h0M222.9 390.0h0M199.4 383.0h0M159.9 422.7h0M182.7 313.4h0M212.0 381.0h0M235.2 352.4h0M187.4 422.0h0M99.4 394.1h0M234.5 352.2h0M169.7 423.7h0M230.3 301.4h0M242.4 329.7h0M243.6 337.6h0M177.8 420.9h0M218.2 378.1h0M239.8 329.0h0M239.6 341.1h0M158.1 438.0h0M188.5 395.7h0M183.5 403.2h0M241.8 407.5h0M108.8 388.8h0M205.1 384.3h0M199.3 420.6h0M244.4 309.6h0M223.8 365.2h0M237.9 408.9h0M221.8 390.8h0M229.5 329.3h0M224.1 406.4h0M205.9 411.1h0M255.1 332.5h0M186.6 411.2h0M153.6 440.7h0M252.1 310.1h0M182.2 420.8h0M186.3 398.0h0M198.8 396.4h0M239.4 373.4h0M232.2 335.6h0M96.6 406.6h0M232.2 334.5h0M201.4 381.6h0M248.6 323.9h0M194.8 392.6h0M213.6 377.3h0M238.5 350.4h0M244.6 364.4h0M215.3 374.3h0M100.6 398.0h0M224.4 402.9h0M175.7 416.6h0M207.7 414.5h0M207.4 387.8h0M230.5 403.8h0M139.7 361.9h0M252.6 308.4h0M233.0 388.3h0M86.9 421.1h0M142.6 374.8h0M180.9 426.6h0M234.2 342.3h0M171.3 344.7h0M231.5 354.4h0M168.9 347.3h0M245.5 328.5h0M235.1 395.8h0M167.5 420.8h0M243.8 370.3h0M213.5 411.5h0M214.9 375.7h0M131.0 380.4h0M215.0 391.1h0M241.1 398.1h0M93.0 403.3h0M92.2 418.6h0M240.5 346.3h0M172.9 421.7h0M235.8 401.9h0M148.1 370.4h0M211.8 393.2h0M151.3 434.8h0M91.0 403.2h0M223.2 320.7h0M235.7 340.7h0M231.3 378.4h0M238.2 331.4h0M237.7 400.6h0M201.6 393.9h0M226.2 374.1h0M218.6 373.0h0M100.0 391.4h0M246.1 315.8h0M150.8 428.8h0M254.9 348.6h0M204.5 310.0h0M229.2 332.3h0M196.7 424.8h0M178.7 413.9h0M194.3 398.4h0M238.0 324.8h0M226.6 365.5h0M218.7 374.8h0M233.8 356.0h0M185.6 423.3h0M219.1 389.9h0M213.9 387.4h0M230.6 332.4h0M234.3 361.0h0M242.3 355.9h0M162.9 340.4h0M209.3 389.0h0M216.2 310.1h0M201.9 384.6h0M244.7 308.6h0M180.8 419.6h0M256.6 310.1h0M193.1 420.4h0M239.3 395.0h0M138.8 370.8h0M192.9 391.9h0M237.9 393.0h0M208.9 380.2h0M253.4 357.7h0M163.5 440.0h0M253.2 316.9h0M231.1 307.0h0M231.8 332.2h0M205.0 396.3h0M164.3 424.1h0M187.4 407.4h0M252.6 306.0h0M200.0 402.1h0M227.6 379.0h0M236.6 316.2h0M230.0 306.0h0M122.5 390.6h0M178.1 321.1h0M231.1 362.8h0M256.2 322.4h0M142.0 363.9h0M223.8 395.7h0M165.2 427.0h0M234.0 347.4h0M243.3 370.2h0M227.6 364.4h0M187.6 400.7h0M216.4 391.0h0M178.7 416.5h0M187.0 427.8h0M243.6 302.3h0M227.5 309.2h0M241.7 348.6h0M228.9 375.6h0M190.3 418.6h0M224.6 372.9h0M243.8 320.4h0M171.5 432.2h0M173.7 432.4h0M241.1 342.8h0M174.7 436.6h0M243.1 343.4h0M229.0 356.7h0M253.4 311.9h0M250.1 320.3h0M224.3 372.8h0M208.2 389.1h0M100.5 417.8h0M142.1 369.9h0M177.0 338.8h0M236.1 382.4h0M236.0 333.1h0M234.5 343.4h0M147.2 432.9h0M184.0 413.9h0M221.5 367.6h0M177.1 333.3h0M180.5 403.6h0M97.5 420.7h0M224.8 325.3h0M216.6 381.8h0M223.7 318.8h0M208.0 403.7h0M179.9 323.0h0M150.1 437.5h0M128.3 385.1h0M172.1 428.5h0M233.3 315.9h0M240.1 353.5h0M212.2 388.5h0M176.1 430.9h0M242.1 315.5h0M106.1 412.4h0M104.3 406.3h0M95.6 400.9h0M235.9 401.5h0M239.7 329.7h0M210.4 385.2h0M237.7 316.6h0M155.3 430.3h0M201.5 394.9h0M245.0 340.5h0M246.6 332.7h0M183.4 414.6h0M234.8 358.8h0M235.1 303.0h0M147.5 430.6h0M214.2 409.3h0M234.1 377.8h0M168.3 420.1h0M116.9 384.3h0M132.4 382.0h0M235.8 397.0h0M214.6 310.3h0M163.9 419.6h0M178.7 324.9h0M211.6 382.0h0M241.4 351.4h0M239.2 404.5h0M245.5 308.3h0M91.6 422.2h0M235.0 352.4h0M177.7 337.6h0M220.9 374.4h0M219.7 366.9h0M232.7 304.1h0M244.8 330.0h0M191.0 402.1h0M150.3 430.8h0M243.2 332.3h0M194.5 390.6h0M152.6 429.9h0M251.5 354.5h0M249.6 304.2h0M212.1 372.5h0M213.9 388.8h0M219.9 310.5h0M187.3 394.9h0M235.5 378.0h0M156.2 426.7h0M236.4 337.0h0M241.1 324.6h0M96.7 420.8h0M223.1 390.9h0M237.8 360.5h0M172.9 417.4h0M156.8 430.9h0M112.4 407.1h0M179.2 438.7h0M194.0 309.5h0M233.9 345.6h0M127.8 381.7h0M207.6 390.9h0M234.7 315.2h0M154.3 428.0h0M222.8 313.6h0M244.1 309.6h0M231.6 301.0h0M198.4 396.7h0M232.1 324.7h0M212.0 411.3h0M122.5 395.0h0M231.6 354.0h0M135.2 377.7h0M221.0 379.3h0M244.0 329.6h0M186.9 412.5h0M106.1 387.3h0M141.1 355.9h0M243.4 409.0h0M223.4 319.4h0M240.9 358.2h0M255.3 322.5h0M91.5 404.2h0M147.6 361.1h0M169.7 437.4h0M232.7 321.2h0M185.8 409.8h0M234.3 349.8h0M250.8 326.7h0M146.8 433.7h0M192.8 387.7h0M240.7 358.1h0M226.6 373.0h0M197.1 390.1h0M234.1 324.0h0M185.3 404.7h0M200.2 395.5h0M215.1 386.4h0M186.1 413.9h0M246.5 327.7h0M248.6 327.1h0M246.6 345.9h0M179.8 331.5h0M89.9 417.4h0M215.0 374.6h0M254.8 332.0h0M204.6 383.0h0M178.5 335.8h0M175.2 428.7h0M223.8 371.4h0M180.5 404.4h0M256.0 308.2h0M243.6 346.6h0M227.2 300.2h0M192.8 389.6h0M235.4 360.9h0M212.6 375.3h0M166.8 425.3h0M234.3 390.5h0M170.9 440.6h0M199.7 423.3h0M252.1 359.7h0M194.3 402.3h0M190.5 417.6h0M230.4 288.0h0M211.6 310.8h0M235.4 390.6h0M248.3 360.3h0M90.2 404.7h0M212.1 406.3h0M255.3 322.7h0M92.9 414.9h0M94.6 408.1h0M235.6 368.7h0M109.3 392.9h0M209.2 391.2h0M178.9 327.2h0M173.9 427.6h0M182.9 404.6h0M247.8 326.3h0M195.9 424.5h0M200.4 405.7h0M141.7 358.0h0M181.1 414.5h0M228.8 295.3h0M224.7 404.9h0M163.9 348.8h0M186.6 398.9h0M205.3 380.5h0M168.6 422.3h0M195.8 400.6h0M231.3 289.7h0M234.7 401.2h0M198.0 391.9h0M199.2 407.6h0M193.9 403.2h0M228.7 327.1h0M216.7 412.1h0M230.8 367.5h0M229.4 311.1h0M189.2 409.1h0M245.1 341.3h0M175.1 344.8h0M231.7 359.9h0M227.7 322.5h0M177.4 439.3h0M206.7 383.5h0M227.1 324.8h0M97.6 398.2h0M231.4 307.9h0M157.2 357.8h0M98.1 398.3h0M233.5 326.5h0M173.9 412.9h0M186.1 428.2h0M226.1 327.8h0M232.4 367.8h0M146.8 353.2h0M223.2 367.8h0M188.3 421.9h0M243.4 404.1h0M126.9 386.5h0M153.1 437.7h0M167.9 431.7h0M241.1 345.4h0M195.3 400.8h0M228.2 371.3h0M229.0 333.2h0M205.7 381.7h0M211.5 393.7h0M190.9 408.4h0M234.5 372.3h0M238.9 352.8h0M190.3 418.5h0M217.8 309.5h0M202.8 389.0h0M170.3 428.3h0M211.9 389.6h0M176.7 410.0h0M218.8 405.1h0M137.1 381.6h0M163.6 339.6h0M166.7 441.5h0M193.3 408.1h0M214.1 392.5h0M171.8 439.0h0M204.0 378.2h0M232.7 359.4h0M186.8 406.5h0M168.0 416.7h0M148.4 433.7h0M222.4 316.2h0M247.1 365.2h0M171.7 435.6h0M249.7 352.0h0M166.3 345.7h0M246.6 322.4h0M250.1 343.1h0M100.5 393.8h0M172.3 419.4h0M141.4 361.2h0M173.1 427.5h0M177.9 321.7h0M224.4 321.9h0M215.6 384.7h0M246.2 323.9h0M213.2 310.4h0M173.7 410.5h0M127.9 391.5h0M194.3 390.0h0M131.6 382.2h0M190.5 410.3h0M232.8 292.1h0M254.6 331.5h0M217.0 310.7h0M218.0 368.7h0M214.3 373.7h0M173.2 424.4h0M169.8 350.2h0M153.0 360.3h0M173.2 439.1h0M172.9 420.1h0M235.9 312.1h0M151.4 431.2h0M174.1 428.7h0M175.4 426.2h0M249.8 333.0h0M185.7 421.2h0M223.3 395.2h0M173.0 424.1h0M234.7 374.1h0M216.9 399.7h0M238.4 295.9h0M177.0 413.3h0M196.5 411.8h0M155.5 351.5h0M198.4 421.7h0M236.1 403.6h0M198.7 383.3h0M210.4 390.1h0M231.2 335.6h0M246.3 360.4h0M192.9 389.2h0M245.9 311.9h0M234.6 357.4h0M198.0 407.1h0M125.9 390.6h0M199.9 395.3h0M96.2 412.2h0M220.2 398.5h0M165.8 427.4h0M158.6 432.8h0M170.1 342.2h0M156.1 432.7h0M242.5 299.8h0M164.6 424.3h0M179.3 324.6h0M235.8 298.5h0M240.5 404.2h0M181.3 404.8h0M130.8 362.3h0M241.3 339.4h0M170.8 412.9h0M246.9 327.6h0M235.4 402.0h0M238.6 330.3h0M257.3 321.0h0M196.1 420.1h0M186.2 404.6h0M95.1 405.9h0M155.4 353.9h0M244.6 336.2h0M239.9 409.7h0M142.0 369.5h0M230.9 372.6h0M247.4 326.6h0M245.3 355.3h0M152.8 438.0h0M147.0 431.0h0M165.2 347.0h0M196.7 414.5h0M238.3 360.2h0M229.0 388.6h0M92.4 399.4h0M160.1 442.3h0M155.6 427.7h0M199.0 310.1h0M215.6 379.9h0M164.3 420.5h0M162.7 439.0h0M193.8 425.9h0M196.3 388.9h0M230.7 392.6h0M142.6 445.0h0M221.2 396.5h0M207.5 387.1h0M163.8 425.1h0M87.2 411.8h0M188.4 416.9h0M244.1 343.0h0M109.2 391.9h0M130.4 376.7h0M166.8 424.4h0M184.9 431.4h0M236.8 393.9h0M251.7 322.7h0M242.6 315.7h0M165.7 432.7h0M106.1 394.8h0M226.9 301.5h0M89.0 409.1h0M233.0 331.2h0M237.7 335.3h0M202.6 420.5h0M250.2 341.5h0M236.2 336.3h0M247.4 356.1h0M204.9 310.8h0M227.0 313.7h0M208.6 382.6h0M225.6 365.1h0M196.1 396.2h0M199.0 401.9h0M228.0 363.0h0M245.9 354.7h0M177.6 411.2h0M151.5 433.6h0M157.5 430.6h0M214.6 407.6h0M154.9 442.8h0M171.8 414.1h0M199.7 422.5h0M110.4 394.5h0M194.1 386.2h0M200.2 390.1h0M241.0 354.3h0M216.1 404.7h0M175.9 340.0h0M210.4 384.4h0M180.4 323.9h0M235.0 364.7h0M234.5 371.5h0M143.3 433.6h0M118.3 395.9h0M232.4 312.4h0M240.4 365.9h0M181.7 318.1h0M177.7 432.6h0M235.9 361.4h0M222.5 389.3h0M187.0 416.1h0M242.5 327.7h0M187.4 408.4h0M209.4 397.7h0M254.4 342.7h0M171.3 416.6h0M239.2 340.1h0M227.9 313.1h0M198.9 385.0h0M238.0 337.4h0M226.8 326.3h0M239.5 396.0h0M141.6 356.4h0M227.9 328.5h0M185.5 405.6h0M216.0 400.2h0M243.7 357.2h0M232.6 371.7h0M188.2 399.9h0M225.6 383.5h0M139.0 368.7h0M173.4 421.1h0M222.7 369.6h0M232.9 359.4h0M207.9 381.1h0M207.1 405.7h0M192.0 405.1h0M148.4 443.9h0M216.1 388.1h0M98.0 418.7h0M229.9 324.0h0M238.3 307.9h0M211.7 383.4h0M205.1 413.7h0M92.2 421.3h0M232.4 310.1h0M175.7 409.8h0M112.6 393.2h0M243.9 324.3h0M222.7 312.4h0M212.1 389.1h0M239.0 369.4h0M173.6 430.8h0M90.4 420.5h0M233.2 351.5h0M243.9 325.4h0M227.8 292.5h0M209.4 373.4h0M234.7 362.9h0M233.1 358.0h0M222.9 314.8h0M109.0 396.3h0M235.4 346.3h0M186.8 425.2h0M229.6 367.5h0M213.0 310.3h0M234.0 328.6h0M164.7 423.5h0M244.5 349.0h0M226.9 324.1h0M165.2 441.8h0M234.6 384.6h0M200.6 394.5h0M211.5 403.6h0M236.2 398.6h0M161.1 438.4h0M232.8 389.9h0M234.8 309.8h0M226.6 326.5h0M226.8 329.3h0M241.6 348.3h0M216.5 407.6h0M253.7 306.1h0M250.2 321.4h0M215.0 407.5h0M211.8 415.1h0M239.1 324.7h0M214.3 379.7h0M205.0 386.2h0M238.3 342.9h0M251.7 342.0h0M233.7 354.3h0M236.6 378.9h0M166.1 421.3h0M223.7 319.5h0M235.2 393.9h0M151.7 357.1h0M251.3 329.9h0M222.3 366.7h0M147.2 368.0h0M196.7 396.6h0M220.3 401.1h0M229.4 299.6h0M98.5 401.5h0M223.0 320.1h0M103.6 412.3h0M230.6 298.2h0M253.9 313.4h0M230.7 293.0h0M232.7 405.1h0M157.1 349.1h0M189.6 401.8h0M181.5 313.8h0M175.9 409.2h0M255.5 310.9h0M237.8 331.4h0M150.6 442.4h0M87.2 419.5h0M89.3 408.1h0M90.3 404.9h0M92.7 400.9h0M106.4 389.5h0M124.5 380.3h0M128.9 371.6h0M131.3 361.1h0M159.8 345.4h0M165.6 339.1h0M169.0 338.1h0M178.8 335.2h0M180.8 325.0h0M179.2 321.4h0M189.0 311.6h0M191.7 312.0h0M202.1 312.1h0M205.0 311.1h0M213.5 311.9h0M228.4 307.8h0M228.8 302.4h0M229.9 288.4h0M228.9 289.8h0M230.3 289.2h0M247.7 304.6h0M252.9 347.0h0M253.0 349.5h0M253.1 352.1h0M244.6 366.1h0M238.8 377.7h0M237.2 388.7h0M241.0 401.8h0M243.0 406.1h0M232.4 406.8h0M222.3 405.1h0M218.4 411.5h0M208.9 414.5h0M201.0 421.7h0M197.8 422.7h0M192.9 426.2h0M188.9 430.3h0M184.7 430.4h0M176.7 431.9h0M170.7 438.9h0M167.5 439.7h0M157.8 442.9h0M156.0 442.3h0M151.6 441.6h0M148.8 441.6h0" stroke="#440154" stroke-width="3.7" stroke-linecap="round" fill="none"/>
<path d="M133.6 415.9h0M127.1 423.5h0M139.9 425.3h0M122.6 430.5h0M92.3 418.9h0M150.6 433.6h0M93.8 429.5h0M151.5 425.9h0M144.3 430.0h0M161.5 431.6h0M116.6 416.9h0M111.0 417.1h0M113.9 429.1h0M118.9 424.7h0M117.2 420.0h0M114.4 429.6h0M129.6 418.7h0M160.5 426.6h0M156.0 423.1h0M127.5 420.1h0M108.1 430.4h0M150.1 429.7h0M117.9 425.6h0M161.5 427.7h0M154.7 418.0h0M122.6 426.1h0M141.5 419.1h0M92.9 427.3h0M93.8 426.4h0M108.1 419.6h0M120.6 425.0h0M112.7 418.0h0M132.2 423.4h0M113.7 420.5h0M155.8 425.7h0M149.2 423.4h0M142.5 415.2h0M133.8 420.0h0M156.4 429.8h0M150.5 424.2h0M145.3 433.4h0M146.3 428.0h0M112.0 427.7h0M146.1 423.3h0M121.6 428.6h0M156.2 422.1h0M115.9 421.2h0M121.4 427.2h0M156.7 434.2h0M151.4 428.0h0M159.6 432.8h0M146.2 427.9h0M149.6 433.8h0M148.7 434.8h0M165.6 426.6h0M142.9 428.4h0M109.2 430.3h0M97.8 428.1h0M128.2 421.0h0M136.9 429.7h0M165.0 428.3h0M149.3 432.5h0M131.9 430.9h0M129.7 418.8h0M153.1 425.7h0M118.6 424.3h0M128.3 422.1h0M156.6 433.2h0M130.9 416.6h0M161.2 428.5h0M139.2 420.0h0M111.3 427.5h0M126.4 415.0h0M139.1 428.7h0M158.0 423.3h0M113.3 424.7h0M136.3 425.1h0M149.5 431.8h0M111.0 429.0h0M120.2 423.7h0M146.8 418.5h0M158.7 420.9h0M138.0 423.9h0M111.3 429.4h0M119.0 413.7h0M89.1 423.5h0M147.1 419.9h0M147.8 422.7h0M139.2 433.2h0M122.1 411.8h0M138.3 424.7h0M114.2 417.8h0M136.1 427.8h0M123.8 416.8h0M102.4 429.5h0M108.5 427.2h0M119.7 413.0h0M108.9 429.6h0M94.8 428.6h0M152.6 434.5h0M128.6 416.8h0M135.1 432.6h0M97.4 427.2h0M123.8 421.8h0M158.7 426.5h0M141.1 424.9h0M90.9 418.3h0M134.3 426.8h0M148.5 425.5h0M134.3 426.0h0M121.5 422.8h0M90.5 423.5h0" stroke="#472d7b" stroke-width="3.7" stroke-linecap="round" fill="none"/>
<path d="M137.2 422.6h0M131.9 413.8h0M145.5 425.2h0M118.2 423.0h0M101.2 422.7h0M107.1 426.2h0M110.5 418.0h0M86.6 422.9h0M129.6 432.6h0M154.9 419.2h0M153.0 429.0h0M113.4 431.1h0M156.4 426.2h0M142.9 429.5h0M132.1 422.3h0M131.7 430.9h0M110.3 425.8h0M137.2 414.7h0M117.2 416.1h0M104.9 430.4h0M109.0 419.4h0M147.2 414.8h0M152.4 435.3h0M125.3 421.4h0M110.4 425.3h0M91.7 419.3h0M118.8 418.5h0M156.9 435.3h0M149.4 424.9h0M143.1 426.8h0M152.5 418.7h0M166.2 429.1h0M132.4 419.5h0M115.4 424.5h0M125.5 412.5h0M113.1 421.4h0M119.5 426.5h0M106.7 420.1h0M158.7 430.4h0M133.1 428.5h0M108.5 420.6h0M160.9 431.3h0M115.3 420.5h0M137.9 422.8h0M138.7 431.4h0M144.1 413.9h0M132.7 413.8h0M100.5 429.2h0M149.8 415.8h0M131.8 416.7h0M102.1 420.2h0M126.4 432.5h0M145.3 428.8h0M146.4 417.5h0M134.6 419.1h0M119.1 420.8h0M119.1 412.5h0M134.5 419.1h0M151.4 429.2h0M165.8 426.9h0M132.0 419.0h0M150.6 415.9h0M135.6 417.4h0M112.6 427.4h0M123.7 432.3h0M158.3 421.0h0M131.5 432.3h0M154.8 430.5h0M115.7 420.8h0M102.9 424.8h0M150.6 429.7h0M145.3 434.0h0M107.0 411.9h0M123.0 417.9h0M129.7 430.6h0M98.6 419.6h0M132.8 421.3h0M149.8 423.6h0M101.6 426.0h0" stroke="#482878" stroke-width="3.7" stroke-linecap="round" fill="none"/>
<path d="M103.0 421.4h0M135.2 428.2h0M86.8 425.3h0M135.2 428.1h0M153.5 423.5h0M116.7 415.0h0M152.0 425.6h0M125.3 424.3h0M95.2 427.3h0M90.6 426.4h0M135.2 424.7h0M131.3 423.1h0M148.3 432.4h0M144.1 417.4h0M133.0 432.9h0M157.4 433.5h0M92.6 420.0h0M153.4 430.5h0M132.8 429.2h0M150.1 430.6h0M165.3 428.2h0M86.3 427.6h0M139.4 431.9h0M111.0 424.7h0M127.3 423.9h0M113.5 411.7h0M117.2 414.9h0M144.7 415.5h0M122.7 413.1h0M86.5 424.4h0M154.1 426.6h0M145.2 414.7h0M136.8 424.4h0M106.4 419.7h0M143.5 432.7h0M147.4 423.7h0M100.2 424.2h0M114.6 430.5h0M131.3 432.8h0M108.5 424.3h0M119.5 420.8h0M115.2 414.8h0M137.9 430.7h0M135.0 428.0h0M123.5 415.7h0M114.8 421.9h0M116.9 429.3h0" stroke="#46337e" stroke-width="3.7" stroke-linecap="round" fill="none"/>
<path d="M131.2 424.5h0M136.9 427.4h0M111.3 430.5h0M147.1 430.4h0M156.1 422.3h0M123.9 414.5h0M119.3 430.8h0M97.2 428.3h0M139.5 416.5h0M108.0 418.8h0M158.8 421.3h0M116.0 417.6h0M128.8 416.4h0M109.5 429.0h0M141.9 414.8h0M98.0 428.1h0M131.0 417.9h0M144.2 429.5h0M130.9 428.3h0M100.1 429.5h0M127.6 426.8h0M155.1 431.6h0M99.3 428.5h0M127.5 421.1h0M111.5 417.2h0M144.4 417.7h0M111.0 426.6h0M153.2 431.5h0M101.6 425.6h0M123.8 423.8h0M115.4 415.1h0M129.0 421.3h0M133.7 421.8h0M115.3 425.0h0M136.0 427.5h0M123.4 420.7h0M132.1 428.3h0M146.7 431.9h0M131.5 412.0h0M135.9 414.4h0M152.1 417.1h0M124.1 422.4h0M143.6 417.6h0M106.9 429.2h0M136.6 415.6h0M141.0 418.6h0M134.6 430.0h0M140.1 414.0h0M131.2 416.6h0M129.5 412.0h0M132.3 423.2h0M138.8 425.9h0M123.5 431.5h0M115.3 423.2h0M108.2 413.3h0" stroke="#440154" stroke-width="3.7" stroke-linecap="round" fill="none"/>
<path d="M123.0 417.6h0M131.4 430.9h0M148.5 415.9h0M100.9 417.7h0M151.1 431.6h0M124.9 417.9h0M88.3 420.3h0M110.4 420.3h0M152.4 420.7h0M157.9 428.5h0M127.9 416.2h0M137.1 417.4h0M123.1 424.3h0M128.5 432.5h0M154.4 431.3h0M155.0 425.0h0M93.2 421.0h0M129.4 425.9h0M99.1 429.1h0M147.4 414.9h0M155.8 425.4h0M111.2 417.9h0M122.3 417.0h0M130.3 427.4h0M158.2 434.4h0M126.7 427.7h0M125.3 420.8h0M150.9 434.7h0M113.8 426.0h0M105.7 418.4h0M141.1 423.0h0M110.1 425.8h0M117.0 421.4h0M117.4 416.8h0M123.2 420.2h0M131.3 424.6h0M142.3 423.6h0M124.5 425.3h0M120.7 412.1h0M157.7 429.0h0M127.5 423.6h0M110.7 419.3h0M134.2 418.7h0M135.4 430.5h0M114.0 429.0h0M126.3 412.0h0M161.1 426.6h0M121.3 426.0h0M147.9 415.0h0M96.6 415.9h0M138.1 421.4h0M156.8 434.5h0M146.9 423.9h0M112.2 423.8h0M119.2 428.0h0M134.7 422.9h0M109.5 429.6h0M127.6 422.4h0M125.8 425.5h0M116.5 422.5h0M156.6 419.1h0M136.5 431.0h0M122.5 427.5h0M157.4 423.3h0M127.4 424.8h0M130.8 425.7h0M120.4 418.8h0M119.9 413.6h0M134.5 430.9h0" stroke="#481f70" stroke-width="3.7" stroke-linecap="round" fill="none"/>
<path d="M69.0,438.0 L72.0,434.5 L76.0,428.4 L80.2,426.4 L90.0,428.0 L100.0,429.0 L120.0,431.0 L140.0,433.0 L150.0,435.0 L145.0,444.4 L134.5,446.4 L126.4,445.4 L118.3,446.4 L112.2,450.5 L106.0,450.5 L100.0,451.5 L98.5,452.8 L88.3,454.8 L80.2,454.0 L74.0,452.0 L70.0,446.0Z" fill="url(#tband)"/>
<path d="M106.8 449.8h0M125.3 444.4h0M109.3 443.3h0M87.6 451.4h0M114.0 443.0h0M77.8 445.6h0M129.4 435.7h0M125.5 442.6h0M145.1 442.8h0M95.1 437.3h0M96.0 439.8h0M126.2 443.6h0M106.9 445.9h0M100.6 443.7h0M85.0 447.5h0M111.2 431.5h0M84.7 445.5h0M113.8 441.5h0M143.6 435.0h0M140.2 438.6h0M130.9 437.8h0M88.0 443.4h0M108.9 429.9h0M93.5 446.7h0M84.9 453.2h0M109.2 440.9h0M95.8 442.2h0M132.1 434.6h0M134.6 445.4h0M104.4 447.5h0M83.9 441.2h0M102.8 441.0h0M92.9 440.4h0M112.8 445.3h0M113.4 444.6h0M119.9 435.7h0M108.8 437.5h0M98.5 440.6h0M74.8 441.9h0M82.5 444.3h0M94.7 429.8h0M130.7 445.5h0M108.1 430.2h0M144.7 439.9h0M112.7 433.5h0M112.7 431.9h0M122.1 443.1h0M134.1 436.3h0M128.9 434.0h0M107.2 439.2h0M98.5 445.4h0M103.5 429.9h0M102.2 431.4h0M134.4 438.1h0M82.6 449.0h0M91.4 451.2h0M110.1 438.5h0M96.1 444.6h0M97.2 443.4h0M130.1 436.6h0M116.0 441.6h0M99.6 433.5h0M122.8 431.6h0M95.4 437.5h0M143.3 435.2h0M138.2 442.9h0M106.4 439.3h0M129.0 442.5h0M136.3 440.0h0M107.2 435.2h0M140.0 440.7h0M116.6 447.2h0M103.1 446.2h0M122.2 442.2h0M92.1 430.7h0M135.8 439.6h0M122.7 433.8h0M108.4 444.0h0M106.8 440.1h0M116.2 438.3h0M135.2 444.2h0M134.4 436.6h0M119.2 440.0h0M113.5 439.5h0M106.0 438.0h0M75.2 439.9h0M117.8 431.3h0M115.2 431.3h0M126.2 435.8h0M104.5 433.6h0M111.8 433.9h0M92.9 430.2h0" stroke="#440154" stroke-width="3.7" stroke-linecap="round" fill="none"/>
<path d="M122.9 443.9h0M131.1 440.7h0M111.1 440.0h0M102.8 439.6h0M113.6 447.1h0M76.7 450.4h0M106.4 447.5h0M75.3 437.4h0M86.6 444.4h0M127.2 439.6h0M117.6 435.5h0M91.0 445.9h0M92.6 451.3h0M120.1 438.5h0M111.0 442.3h0M75.5 437.5h0M115.5 445.5h0M96.9 452.8h0M135.8 442.9h0M82.3 452.0h0M80.9 440.3h0M117.1 434.3h0M112.9 445.8h0M117.1 433.7h0M112.3 439.0h0M149.3 435.6h0M96.7 435.4h0M115.9 442.1h0M93.1 453.4h0M110.5 441.4h0M87.2 450.4h0M118.9 444.8h0M84.3 445.8h0M122.5 440.7h0M124.5 440.9h0M74.8 443.3h0M147.1 434.5h0M102.0 443.5h0M109.0 434.5h0M133.7 432.7h0M82.7 443.1h0M125.8 442.8h0M84.1 447.0h0M100.8 443.8h0M106.3 448.7h0M105.6 435.1h0M107.0 440.4h0M98.0 452.0h0M107.9 437.1h0M113.3 430.5h0" stroke="#472d7b" stroke-width="3.7" stroke-linecap="round" fill="none"/>
<path d="M100.1 441.8h0M73.5 434.4h0M81.7 428.3h0M106.4 441.7h0M138.2 434.0h0M104.5 447.5h0M138.8 433.4h0M115.7 443.2h0M86.8 445.8h0M138.1 443.9h0M128.6 432.0h0M83.1 448.1h0M111.6 431.9h0M128.0 436.7h0M86.0 452.7h0M123.0 442.1h0M126.7 434.4h0M89.9 433.7h0M76.6 450.2h0M80.5 438.3h0M135.6 440.4h0M84.7 448.1h0M72.4 442.9h0M90.6 451.8h0M101.6 441.4h0M134.4 433.3h0M84.7 438.0h0M82.6 432.6h0M124.6 440.0h0M137.3 434.1h0M144.7 438.4h0M102.4 444.4h0M118.4 437.3h0M71.1 446.4h0M95.7 431.6h0M106.9 437.7h0M118.9 446.1h0M132.1 444.2h0M80.5 431.2h0M112.8 439.1h0M139.3 435.6h0M93.4 433.1h0M101.4 439.5h0M74.7 431.4h0M121.9 442.5h0M73.0 441.3h0M87.1 429.9h0M98.7 443.1h0M107.2 447.8h0M134.5 435.2h0M116.5 447.4h0M114.3 444.2h0M105.2 439.1h0M120.7 433.7h0" stroke="#3e4989" stroke-width="3.7" stroke-linecap="round" fill="none"/>
<path d="M94.3 435.2h0M144.1 442.1h0M93.8 449.3h0M85.4 437.8h0M124.1 434.1h0M107.4 430.8h0M104.3 438.4h0M110.1 444.8h0M107.1 441.9h0M106.9 439.2h0M101.0 444.7h0M86.2 432.5h0M128.9 442.5h0M117.8 434.0h0M145.2 439.4h0M89.8 442.9h0M130.4 442.8h0M107.8 430.3h0M96.7 450.9h0M135.9 443.2h0M101.8 433.8h0M140.1 442.4h0M88.8 439.5h0M118.8 434.9h0M142.0 433.7h0M123.3 431.9h0M93.6 444.4h0M76.1 447.7h0M81.9 434.9h0M80.5 426.8h0M91.2 441.9h0M144.1 436.6h0M126.5 443.6h0M122.1 439.2h0M144.5 437.3h0M119.1 436.3h0M85.6 436.6h0M113.6 430.9h0M135.1 443.0h0M133.6 433.3h0M138.4 445.2h0M121.1 436.1h0M97.8 440.5h0M72.9 440.1h0" stroke="#46337e" stroke-width="3.7" stroke-linecap="round" fill="none"/>
<path d="M114.2 437.3h0M93.2 436.8h0M132.5 436.9h0M74.1 447.2h0M123.4 433.3h0M109.5 433.4h0M106.5 434.3h0M115.6 444.7h0M94.1 450.6h0M141.3 438.2h0M110.8 441.8h0M110.6 442.4h0M145.4 442.6h0M132.4 432.7h0M99.2 437.3h0M74.7 435.3h0M116.6 435.8h0M145.1 438.9h0M90.5 448.2h0M97.0 437.8h0M83.9 451.8h0M119.1 440.2h0M119.6 433.9h0M93.4 438.6h0M124.9 433.1h0M96.5 437.2h0M139.2 438.8h0M106.7 442.1h0M90.2 436.8h0M105.7 430.0h0M85.9 432.3h0M81.0 441.2h0M75.8 442.5h0M90.4 440.2h0M84.2 454.4h0M77.2 428.7h0M140.2 439.1h0M89.2 443.0h0M88.7 434.4h0M140.3 433.4h0M99.2 445.3h0M88.4 447.0h0M81.5 445.7h0M86.7 429.3h0M88.7 452.0h0M129.7 442.2h0M130.2 440.8h0M92.4 448.4h0M93.6 431.6h0M110.0 445.7h0M103.2 442.4h0M105.2 433.6h0M148.2 437.2h0M117.6 443.3h0M127.2 445.5h0M96.7 438.5h0M126.5 436.3h0M136.2 441.4h0" stroke="#433e85" stroke-width="3.7" stroke-linecap="round" fill="none"/>
<path d="M110.5 434.5h0M105.6 438.2h0M106.1 445.0h0M103.6 440.3h0M125.2 444.7h0M144.7 439.3h0M138.5 434.3h0M120.7 439.9h0M138.7 443.1h0M137.1 444.2h0M113.6 441.4h0M147.1 440.3h0M119.1 443.7h0M141.9 443.0h0M121.6 440.5h0M136.2 435.0h0M136.6 436.0h0M123.9 437.4h0M105.1 443.5h0M95.7 440.5h0M114.1 435.7h0M112.9 436.7h0M117.0 445.2h0M97.9 450.7h0M105.4 435.6h0M145.6 439.4h0M106.2 434.0h0M116.7 442.3h0M139.6 440.9h0M125.0 441.5h0M110.9 447.5h0M117.5 433.0h0M129.2 445.0h0M113.4 440.2h0M101.7 450.0h0M116.2 431.4h0M112.1 431.1h0M101.2 438.3h0M99.0 437.2h0M138.7 440.1h0M98.1 438.3h0M141.6 440.0h0M109.0 442.8h0M119.7 435.6h0" stroke="#481f70" stroke-width="3.7" stroke-linecap="round" fill="none"/>
<path d="M95.5 449.4h0M85.6 437.8h0M84.5 435.9h0M88.6 441.7h0M80.2 439.2h0M77.5 449.2h0M96.3 451.5h0M101.1 450.3h0M81.4 427.5h0M85.0 432.6h0M78.3 439.2h0M93.4 446.1h0M76.3 428.3h0M90.1 434.2h0M81.9 435.4h0M79.6 452.2h0M89.0 432.1h0" stroke="#31688e" stroke-width="3.7" stroke-linecap="round" fill="none"/>
<path d="M76.8 452.5h0M81.1 436.8h0M86.3 454.3h0M81.0 445.9h0M98.8 435.7h0M82.6 436.5h0M89.2 434.6h0M94.3 437.3h0M77.7 429.6h0M95.3 433.9h0M85.8 431.7h0M89.4 430.7h0M95.5 431.2h0M95.3 438.6h0M80.4 428.0h0M102.9 438.2h0M81.0 453.4h0M85.1 443.0h0M90.9 432.9h0M76.2 440.3h0M79.1 440.7h0M81.0 428.3h0M86.7 444.4h0M70.3 439.3h0M89.9 450.9h0M83.1 451.6h0M78.5 443.0h0" stroke="#3b528b" stroke-width="3.7" stroke-linecap="round" fill="none"/>
<path d="M77.7 432.9h0M75.4 447.4h0M92.4 431.8h0M100.9 443.5h0M88.6 451.0h0M72.3 443.0h0M93.7 428.9h0M88.0 451.4h0M78.1 440.2h0M90.0 448.9h0M83.7 437.2h0M75.3 433.4h0M89.9 441.0h0M100.1 447.1h0" stroke="#2a788e" stroke-width="3.7" stroke-linecap="round" fill="none"/>
<path d="M81.9 448.7h0M84.1 449.2h0M91.3 431.0h0M92.8 444.3h0M81.9 444.0h0M98.0 433.0h0M97.1 451.2h0M87.1 433.2h0M101.1 445.7h0M82.5 431.5h0M80.9 444.0h0M84.4 434.3h0M92.4 430.4h0M85.8 448.7h0M74.4 452.1h0M88.6 454.4h0M83.2 446.1h0" stroke="#2c728e" stroke-width="3.7" stroke-linecap="round" fill="none"/>
<path d="M83.0 453.1h0M99.9 445.2h0M99.9 448.0h0M86.6 441.0h0M73.6 443.3h0M81.7 452.6h0M83.3 438.2h0M79.5 445.6h0M86.8 429.3h0M88.4 450.1h0M92.7 441.2h0M75.9 436.7h0M76.2 447.3h0M103.1 444.4h0M93.8 452.0h0M81.3 453.8h0M97.4 434.3h0M82.0 435.3h0M82.1 436.9h0M72.7 439.8h0" stroke="#21918c" stroke-width="3.7" stroke-linecap="round" fill="none"/>
<path d="M83.2 453.8h0M89.9 453.0h0M76.0 452.0h0M93.0 452.0h0M86.0 451.0h0" stroke="#20a386" stroke-width="3.7" stroke-linecap="round" fill="none"/>
<path d="M80.0 450.0h0M92.0 447.5h0M104.0 449.0h0" stroke="#35b779" stroke-width="3.7" stroke-linecap="round" fill="none"/>
<path d="M88.3 448.8h0M96.4 449.8h0M99.5 450.8h0" stroke="#fde725" stroke-width="3.7" stroke-linecap="round" fill="none"/>
<path d="M100.5 442.7h0M125.9 437.6h0" stroke="#b5de2b" stroke-width="3.7" stroke-linecap="round" fill="none"/>
<path d="M190.6 431.8h0" stroke="#1f9e89" stroke-width="3.7" stroke-linecap="round" fill="none"/>
<path d="M168.6 141.6h0M237.2 428.6h0M157.6 328.4h0M235.0 428.0h0M220.0 415.0h0M205.0 422.5h0M190.0 419.0h0M228.0 420.0h0M212.0 425.0h0M198.0 428.0h0M240.0 418.0h0M244.0 400.0h0M183.0 428.0h0M172.0 437.0h0" stroke="#440154" stroke-width="3.7" stroke-linecap="round" fill="none"/>
<ellipse cx="115" cy="149.8" rx="1.2" ry="2.6" fill="#fff"/>
<line x1="67.90" y1="19.2" x2="67.90" y2="218.3" stroke="#b0b0b0" stroke-opacity="0.55" stroke-width="0.9"/>
<line x1="118.47" y1="19.2" x2="118.47" y2="218.3" stroke="#b0b0b0" stroke-opacity="0.55" stroke-width="0.9"/>
<line x1="169.03" y1="19.2" x2="169.03" y2="218.3" stroke="#b0b0b0" stroke-opacity="0.55" stroke-width="0.9"/>
<line x1="219.60" y1="19.2" x2="219.60" y2="218.3" stroke="#b0b0b0" stroke-opacity="0.55" stroke-width="0.9"/>
<line x1="68.0" y1="218.77" x2="262.6" y2="218.77" stroke="#b0b0b0" stroke-opacity="0.55" stroke-width="0.9"/>
<line x1="68.0" y1="193.00" x2="262.6" y2="193.00" stroke="#b0b0b0" stroke-opacity="0.55" stroke-width="0.9"/>
<line x1="68.0" y1="167.24" x2="262.6" y2="167.24" stroke="#b0b0b0" stroke-opacity="0.55" stroke-width="0.9"/>
<line x1="68.0" y1="141.47" x2="262.6" y2="141.47" stroke="#b0b0b0" stroke-opacity="0.55" stroke-width="0.9"/>
<line x1="68.0" y1="115.70" x2="262.6" y2="115.70" stroke="#b0b0b0" stroke-opacity="0.55" stroke-width="0.9"/>
<line x1="68.0" y1="89.94" x2="262.6" y2="89.94" stroke="#b0b0b0" stroke-opacity="0.55" stroke-width="0.9"/>
<line x1="68.0" y1="64.17" x2="262.6" y2="64.17" stroke="#b0b0b0" stroke-opacity="0.55" stroke-width="0.9"/>
<line x1="68.0" y1="38.40" x2="262.6" y2="38.40" stroke="#b0b0b0" stroke-opacity="0.55" stroke-width="0.9"/>
<line x1="74.50" y1="258.3" x2="74.50" y2="457.1" stroke="#b0b0b0" stroke-opacity="0.55" stroke-width="0.9"/>
<line x1="110.24" y1="258.3" x2="110.24" y2="457.1" stroke="#b0b0b0" stroke-opacity="0.55" stroke-width="0.9"/>
<line x1="145.98" y1="258.3" x2="145.98" y2="457.1" stroke="#b0b0b0" stroke-opacity="0.55" stroke-width="0.9"/>
<line x1="181.72" y1="258.3" x2="181.72" y2="457.1" stroke="#b0b0b0" stroke-opacity="0.55" stroke-width="0.9"/>
<line x1="217.46" y1="258.3" x2="217.46" y2="457.1" stroke="#b0b0b0" stroke-opacity="0.55" stroke-width="0.9"/>
<line x1="253.20" y1="258.3" x2="253.20" y2="457.1" stroke="#b0b0b0" stroke-opacity="0.55" stroke-width="0.9"/>
<line x1="68.0" y1="429.95" x2="262.5" y2="429.95" stroke="#b0b0b0" stroke-opacity="0.55" stroke-width="0.9"/>
<line x1="68.0" y1="400.60" x2="262.5" y2="400.60" stroke="#b0b0b0" stroke-opacity="0.55" stroke-width="0.9"/>
<line x1="68.0" y1="371.25" x2="262.5" y2="371.25" stroke="#b0b0b0" stroke-opacity="0.55" stroke-width="0.9"/>
<line x1="68.0" y1="341.90" x2="262.5" y2="341.90" stroke="#b0b0b0" stroke-opacity="0.55" stroke-width="0.9"/>
<line x1="68.0" y1="312.55" x2="262.5" y2="312.55" stroke="#b0b0b0" stroke-opacity="0.55" stroke-width="0.9"/>
<line x1="68.0" y1="283.20" x2="262.5" y2="283.20" stroke="#b0b0b0" stroke-opacity="0.55" stroke-width="0.9"/>
<rect x="72.6" y="23.90" width="148.20" height="46.90" fill="#cccccc"/>
<rect x="84.4" y="31.00" width="4.2" height="4.2" fill="#440154"/>
<line x1="75.8" y1="46.90" x2="97" y2="46.90" stroke="#ff0000" stroke-width="1.5"/>
<line x1="75.8" y1="61.10" x2="97" y2="61.10" stroke="#000" stroke-width="1.5"/>
<text x="104.4" y="37.40" font-size="10.2" text-anchor="start" fill="#262626" textLength="111.8" lengthAdjust="spacingAndGlyphs" >R=0.99, s=0.97 , i=4.5</text>
<text x="104.4" y="50.90" font-size="10.2" text-anchor="start" fill="#262626" textLength="47.9" lengthAdjust="spacingAndGlyphs" >Fitted line</text>
<text x="104.4" y="64.40" font-size="10.2" text-anchor="start" fill="#262626" textLength="37.4" lengthAdjust="spacingAndGlyphs" >1:1 Line</text>
<line x1="67.9" y1="216.8" x2="228.2" y2="58.8" stroke="#f50f0f" stroke-width="1.7"/>
<line x1="68.0" y1="218.3" x2="262.6" y2="19.2" stroke="#000" stroke-width="1.5"/>
<line x1="68.07" y1="457.17" x2="263.21" y2="316.95" stroke="#f50f0f" stroke-width="1.7"/>
<line x1="68.0" y1="457.1" x2="262.5" y2="258.3" stroke="#000" stroke-width="1.5"/>
<rect x="72.6" y="262.70" width="154.20" height="46.90" fill="#cccccc"/>
<rect x="84.4" y="269.80" width="4.2" height="4.2" fill="#440154"/>
<line x1="75.8" y1="285.70" x2="97" y2="285.70" stroke="#ff0000" stroke-width="1.5"/>
<line x1="75.8" y1="299.90" x2="97" y2="299.90" stroke="#000" stroke-width="1.5"/>
<text x="104.4" y="276.20" font-size="10.2" text-anchor="start" fill="#262626" textLength="117.6" lengthAdjust="spacingAndGlyphs" >R=0.86, s=0.70 , i=37.1</text>
<text x="104.4" y="289.70" font-size="10.2" text-anchor="start" fill="#262626" textLength="47.9" lengthAdjust="spacingAndGlyphs" >Fitted line</text>
<text x="104.4" y="303.20" font-size="10.2" text-anchor="start" fill="#262626" textLength="37.4" lengthAdjust="spacingAndGlyphs" >1:1 Line</text>
<rect x="68.0" y="19.2" width="194.60" height="199.10" fill="none" stroke="#1a1a1a" stroke-width="1"/>
<rect x="68.0" y="258.3" width="194.50" height="198.80" fill="none" stroke="#1a1a1a" stroke-width="1"/>
<line x1="67.90" y1="218.3" x2="67.90" y2="221.60000000000002" stroke="#1a1a1a" stroke-width="0.9"/>
<line x1="118.47" y1="218.3" x2="118.47" y2="221.60000000000002" stroke="#1a1a1a" stroke-width="0.9"/>
<line x1="169.03" y1="218.3" x2="169.03" y2="221.60000000000002" stroke="#1a1a1a" stroke-width="0.9"/>
<line x1="219.60" y1="218.3" x2="219.60" y2="221.60000000000002" stroke="#1a1a1a" stroke-width="0.9"/>
<line x1="64.7" y1="218.77" x2="68.0" y2="218.77" stroke="#1a1a1a" stroke-width="0.9"/>
<line x1="64.7" y1="193.00" x2="68.0" y2="193.00" stroke="#1a1a1a" stroke-width="0.9"/>
<line x1="64.7" y1="167.24" x2="68.0" y2="167.24" stroke="#1a1a1a" stroke-width="0.9"/>
<line x1="64.7" y1="141.47" x2="68.0" y2="141.47" stroke="#1a1a1a" stroke-width="0.9"/>
<line x1="64.7" y1="115.70" x2="68.0" y2="115.70" stroke="#1a1a1a" stroke-width="0.9"/>
<line x1="64.7" y1="89.94" x2="68.0" y2="89.94" stroke="#1a1a1a" stroke-width="0.9"/>
<line x1="64.7" y1="64.17" x2="68.0" y2="64.17" stroke="#1a1a1a" stroke-width="0.9"/>
<line x1="64.7" y1="38.40" x2="68.0" y2="38.40" stroke="#1a1a1a" stroke-width="0.9"/>
<line x1="74.50" y1="457.1" x2="74.50" y2="460.40000000000003" stroke="#1a1a1a" stroke-width="0.9"/>
<line x1="110.24" y1="457.1" x2="110.24" y2="460.40000000000003" stroke="#1a1a1a" stroke-width="0.9"/>
<line x1="145.98" y1="457.1" x2="145.98" y2="460.40000000000003" stroke="#1a1a1a" stroke-width="0.9"/>
<line x1="181.72" y1="457.1" x2="181.72" y2="460.40000000000003" stroke="#1a1a1a" stroke-width="0.9"/>
<line x1="217.46" y1="457.1" x2="217.46" y2="460.40000000000003" stroke="#1a1a1a" stroke-width="0.9"/>
<line x1="253.20" y1="457.1" x2="253.20" y2="460.40000000000003" stroke="#1a1a1a" stroke-width="0.9"/>
<line x1="64.7" y1="429.95" x2="68.0" y2="429.95" stroke="#1a1a1a" stroke-width="0.9"/>
<line x1="64.7" y1="400.60" x2="68.0" y2="400.60" stroke="#1a1a1a" stroke-width="0.9"/>
<line x1="64.7" y1="371.25" x2="68.0" y2="371.25" stroke="#1a1a1a" stroke-width="0.9"/>
<line x1="64.7" y1="341.90" x2="68.0" y2="341.90" stroke="#1a1a1a" stroke-width="0.9"/>
<line x1="64.7" y1="312.55" x2="68.0" y2="312.55" stroke="#1a1a1a" stroke-width="0.9"/>
<line x1="64.7" y1="283.20" x2="68.0" y2="283.20" stroke="#1a1a1a" stroke-width="0.9"/>
<text x="61.0" y="44.8" font-size="10.2" text-anchor="end" fill="#262626" textLength="17.16" lengthAdjust="spacingAndGlyphs" >700</text>
<text x="61.0" y="69.7" font-size="10.2" text-anchor="end" fill="#262626" textLength="17.16" lengthAdjust="spacingAndGlyphs" >600</text>
<text x="61.0" y="94.5" font-size="10.2" text-anchor="end" fill="#262626" textLength="17.16" lengthAdjust="spacingAndGlyphs" >500</text>
<text x="61.0" y="122.3" font-size="10.2" text-anchor="end" fill="#262626" textLength="17.16" lengthAdjust="spacingAndGlyphs" >400</text>
<text x="61.0" y="148.2" font-size="10.2" text-anchor="end" fill="#262626" textLength="17.16" lengthAdjust="spacingAndGlyphs" >300</text>
<text x="61.0" y="172.7" font-size="10.2" text-anchor="end" fill="#262626" textLength="17.16" lengthAdjust="spacingAndGlyphs" >200</text>
<text x="61.0" y="197.0" font-size="10.2" text-anchor="end" fill="#262626" textLength="17.16" lengthAdjust="spacingAndGlyphs" >100</text>
<text x="61.0" y="221.0" font-size="10.2" text-anchor="end" fill="#262626" textLength="5.72" lengthAdjust="spacingAndGlyphs" >0</text>
<text x="68.20" y="234.7" font-size="10.2" text-anchor="middle" fill="#262626" textLength="5.72" lengthAdjust="spacingAndGlyphs" >0</text>
<text x="118.77" y="234.7" font-size="10.2" text-anchor="middle" fill="#262626" textLength="17.16" lengthAdjust="spacingAndGlyphs" >200</text>
<text x="169.33" y="234.7" font-size="10.2" text-anchor="middle" fill="#262626" textLength="17.16" lengthAdjust="spacingAndGlyphs" >400</text>
<text x="219.90" y="234.7" font-size="10.2" text-anchor="middle" fill="#262626" textLength="17.16" lengthAdjust="spacingAndGlyphs" >600</text>
<text x="61.0" y="289.5" font-size="10.2" text-anchor="end" fill="#262626" textLength="17.16" lengthAdjust="spacingAndGlyphs" >240</text>
<text x="61.0" y="313.6" font-size="10.2" text-anchor="end" fill="#262626" textLength="17.16" lengthAdjust="spacingAndGlyphs" >220</text>
<text x="61.0" y="338.9" font-size="10.2" text-anchor="end" fill="#262626" textLength="17.16" lengthAdjust="spacingAndGlyphs" >200</text>
<text x="61.0" y="377.2" font-size="10.2" text-anchor="end" fill="#262626" textLength="17.16" lengthAdjust="spacingAndGlyphs" >180</text>
<text x="61.0" y="402.2" font-size="10.2" text-anchor="end" fill="#262626" textLength="17.16" lengthAdjust="spacingAndGlyphs" >160</text>
<text x="61.0" y="425.6" font-size="10.2" text-anchor="end" fill="#262626" textLength="17.16" lengthAdjust="spacingAndGlyphs" >140</text>
<text x="74.90" y="474.5" font-size="10.2" text-anchor="middle" fill="#262626" textLength="17.16" lengthAdjust="spacingAndGlyphs" >125</text>
<text x="110.64" y="474.5" font-size="10.2" text-anchor="middle" fill="#262626" textLength="17.16" lengthAdjust="spacingAndGlyphs" >150</text>
<text x="146.38" y="474.5" font-size="10.2" text-anchor="middle" fill="#262626" textLength="17.16" lengthAdjust="spacingAndGlyphs" >175</text>
<text x="182.12" y="474.5" font-size="10.2" text-anchor="middle" fill="#262626" textLength="17.16" lengthAdjust="spacingAndGlyphs" >200</text>
<text x="217.86" y="474.5" font-size="10.2" text-anchor="middle" fill="#262626" textLength="17.16" lengthAdjust="spacingAndGlyphs" >225</text>
<text x="253.60" y="474.5" font-size="10.2" text-anchor="middle" fill="#262626" textLength="17.16" lengthAdjust="spacingAndGlyphs" >250</text>
<text x="168.1" y="12.6" font-size="12.6" text-anchor="middle" fill="#262626" textLength="41.6" lengthAdjust="spacingAndGlyphs" >(a) SW</text>
<text x="166.3" y="256.9" font-size="12.6" text-anchor="middle" fill="#262626" textLength="38.6" lengthAdjust="spacingAndGlyphs" >(b) LW</text>
<text x="165.5" y="487.4" font-size="10.6" text-anchor="middle" fill="#262626" textLength="103" lengthAdjust="spacingAndGlyphs" >CERES fluxes [W/m2]</text>
<g transform="translate(11.6,213.7) rotate(-90)"><text x="0" y="0" font-size="10.5" text-anchor="middle" fill="#262626" textLength="87.3" lengthAdjust="spacingAndGlyphs">Rapid Contrail-RF</text></g>
<g transform="translate(23.3,213.5) rotate(-90)"><text x="0" y="0" font-size="10.5" text-anchor="middle" fill="#262626" textLength="177" lengthAdjust="spacingAndGlyphs">Estimation Approach fluxes (W/m2)</text></g>
<g transform="translate(110.5,122.2) rotate(-90)"><text x="0" y="0" font-size="6.6" text-anchor="middle" fill="#262626" style="stroke-width:0.1px">2</text></g>
<g transform="translate(110.5,361.3) rotate(-90)"><text x="0" y="0" font-size="6.6" text-anchor="middle" fill="#262626" style="stroke-width:0.1px">2</text></g>
<defs><linearGradient id="vir" x1="0" y1="1" x2="0" y2="0"><stop offset="0.000" stop-color="#440154"/><stop offset="0.111" stop-color="#482878"/><stop offset="0.222" stop-color="#3e4989"/><stop offset="0.333" stop-color="#31688e"/><stop offset="0.444" stop-color="#26828e"/><stop offset="0.556" stop-color="#1f9e89"/><stop offset="0.667" stop-color="#35b779"/><stop offset="0.778" stop-color="#6ece58"/><stop offset="0.889" stop-color="#b5de2b"/><stop offset="1.000" stop-color="#fde725"/></linearGradient></defs>
<rect x="275.8" y="155.6" width="8.8" height="165.2" fill="url(#vir)" stroke="#1a1a1a" stroke-width="0.8"/>
<line x1="284.6" y1="187.4" x2="287.8" y2="187.4" stroke="#1a1a1a" stroke-width="0.9"/>
<line x1="284.6" y1="221.4" x2="287.8" y2="221.4" stroke="#1a1a1a" stroke-width="0.9"/>
<line x1="284.6" y1="254.5" x2="287.8" y2="254.5" stroke="#1a1a1a" stroke-width="0.9"/>
<line x1="284.6" y1="287.5" x2="287.8" y2="287.5" stroke="#1a1a1a" stroke-width="0.9"/>
<text x="291.5" y="193.5" font-size="10.2" text-anchor="start" fill="#262626" textLength="11.2" lengthAdjust="spacingAndGlyphs" >80</text>
<text x="291.5" y="218.5" font-size="10.2" text-anchor="start" fill="#262626" textLength="11.2" lengthAdjust="spacingAndGlyphs" >60</text>
<text x="291.5" y="260.5" font-size="10.2" text-anchor="start" fill="#262626" textLength="11.2" lengthAdjust="spacingAndGlyphs" >40</text>
<text x="291.5" y="285.5" font-size="10.2" text-anchor="start" fill="#262626" textLength="11.2" lengthAdjust="spacingAndGlyphs" >20</text>
<g transform="translate(316.9,238.7) rotate(-90)"><text x="0" y="0" font-size="10.8" text-anchor="middle" fill="#262626" textLength="19.6" lengthAdjust="spacingAndGlyphs">COT</text></g>
</svg>
</body></html>
